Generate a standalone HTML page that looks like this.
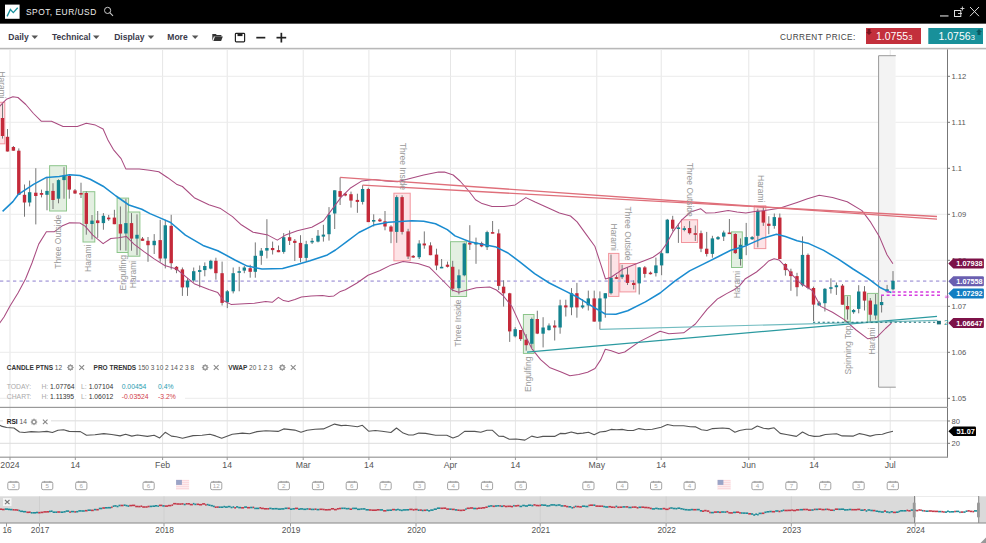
<!DOCTYPE html>
<html><head><meta charset="utf-8"><style>
html,body{margin:0;padding:0;background:#fff;width:986px;height:543px;overflow:hidden}
svg{display:block}
</style></head><body>
<svg width="986" height="543" viewBox="0 0 986 543">
<rect x="0" y="0" width="986" height="23" fill="#000"/>
<rect x="0" y="23" width="986" height="1" fill="#555"/>
<rect x="5" y="4.6" width="14.6" height="14.2" fill="#fff"/>
<polyline points="7.1,16.4 10.4,9.5 13.3,12.6 17.7,7.7" fill="none" stroke="#16909c" stroke-width="1.3"/>
<text x="26" y="15" font-family="Liberation Sans, sans-serif" font-size="8.4" letter-spacing="0.5" fill="#eee">SPOT, EUR/USD</text>
<circle cx="107.6" cy="10.4" r="3.1" fill="none" stroke="#ccc" stroke-width="1"/>
<line x1="109.8" y1="12.6" x2="113" y2="15.8" stroke="#ccc" stroke-width="1.1"/>
<rect x="940" y="15.4" width="8.5" height="1.1" fill="#ddd"/>
<rect x="954.5" y="10.5" width="6.3" height="6" fill="none" stroke="#ddd" stroke-width="1"/>
<path d="M958 13.5 h4 M962.4 6.5 v4 M960.4 8.5 h4" stroke="#ddd" stroke-width="0.9"/>
<path d="M970 7 L979 16.2 M979 7 L970 16.2" stroke="#ddd" stroke-width="1"/>
<text x="8.3" y="40.2" font-family="Liberation Sans, sans-serif" font-size="8.5" font-weight="bold" fill="#3a3a4a">Daily</text>
<path d="M31.5,35.5 h6.5 l-3.25,3.5 z" fill="#555"/>
<text x="52" y="40.2" font-family="Liberation Sans, sans-serif" font-size="8.5" font-weight="bold" fill="#3a3a4a">Technical</text>
<path d="M93,35.5 h6.5 l-3.25,3.5 z" fill="#555"/>
<text x="114.2" y="40.2" font-family="Liberation Sans, sans-serif" font-size="8.5" font-weight="bold" fill="#3a3a4a">Display</text>
<path d="M147.7,35.5 h6.5 l-3.25,3.5 z" fill="#555"/>
<text x="167.3" y="40.2" font-family="Liberation Sans, sans-serif" font-size="8.5" font-weight="bold" fill="#3a3a4a">More</text>
<path d="M191.9,35.5 h6.5 l-3.25,3.5 z" fill="#555"/>
<path d="M212.3,34 h3.5 l1,1 h4.6 v1.6 h-7.6 l-1.5,4.4 z" fill="#333"/><path d="M213.3,41 l1.7,-4.4 h7.8 l-1.7,4.4 z" fill="#333"/>
<rect x="235.4" y="33.3" width="9.2" height="8.6" rx="0.8" fill="none" stroke="#222" stroke-width="1.2"/><rect x="237.5" y="33.3" width="5" height="2.8" fill="#222"/>
<rect x="256.3" y="36.8" width="9" height="1.7" fill="#222"/>
<rect x="276.5" y="36.8" width="9.7" height="1.7" fill="#222"/><rect x="280.5" y="32.8" width="1.7" height="9.7" fill="#222"/>
<text x="780" y="40" font-family="Liberation Sans, sans-serif" font-size="8.2" letter-spacing="0.45" fill="#444">CURRENT PRICE:</text>
<rect x="866" y="28" width="55" height="16" fill="#c3303c"/>
<text x="876" y="40.3" font-family="Liberation Sans, sans-serif" font-size="10.5" fill="#fff">1.0755<tspan font-size="7.5">3</tspan></text>
<path d="M867.5,29 h3 v3 h1.5 l-3,3 l-3,-3 h1.5 z" fill="#7a1520"/>
<rect x="928.3" y="28" width="54.7" height="16" fill="#18909a"/>
<text x="938.5" y="40.3" font-family="Liberation Sans, sans-serif" font-size="10.5" fill="#fff">1.0756<tspan font-size="7.5">3</tspan></text>
<path d="M977.5,35 h3 v-3 h1.5 l-3,-3 l-3,3 h1.5 z" fill="#0b5a60"/>
<rect x="0" y="47.8" width="986" height="1.6" fill="#b8b8b8"/>
<rect x="9.5" y="49.4" width="1" height="408" fill="#e6e6e6"/>
<rect x="74.8" y="49.4" width="1" height="408" fill="#e6e6e6"/>
<rect x="162.1" y="49.4" width="1" height="408" fill="#e6e6e6"/>
<rect x="226.7" y="49.4" width="1" height="408" fill="#e6e6e6"/>
<rect x="302.7" y="49.4" width="1" height="408" fill="#e6e6e6"/>
<rect x="368.4" y="49.4" width="1" height="408" fill="#e6e6e6"/>
<rect x="450.0" y="49.4" width="1" height="408" fill="#e6e6e6"/>
<rect x="514.9" y="49.4" width="1" height="408" fill="#e6e6e6"/>
<rect x="596.3" y="49.4" width="1" height="408" fill="#e6e6e6"/>
<rect x="660.7" y="49.4" width="1" height="408" fill="#e6e6e6"/>
<rect x="748.3" y="49.4" width="1" height="408" fill="#e6e6e6"/>
<rect x="813.6" y="49.4" width="1" height="408" fill="#e6e6e6"/>
<rect x="889.7" y="49.4" width="1" height="408" fill="#e6e6e6"/>
<rect x="0" y="75.80" width="947" height="1" fill="#ececec"/>
<rect x="0" y="121.80" width="947" height="1" fill="#ececec"/>
<rect x="0" y="167.80" width="947" height="1" fill="#ececec"/>
<rect x="0" y="213.80" width="947" height="1" fill="#ececec"/>
<rect x="0" y="259.80" width="947" height="1" fill="#ececec"/>
<rect x="0" y="305.80" width="947" height="1" fill="#ececec"/>
<rect x="0" y="351.80" width="947" height="1" fill="#ececec"/>
<rect x="0" y="397.80" width="947" height="1" fill="#ececec"/>
<rect x="947" y="49.4" width="1" height="408" fill="#777"/>
<rect x="947" y="75.80" width="3" height="1" fill="#777"/>
<text x="951.5" y="79.10" font-family="Liberation Sans, sans-serif" font-size="7.6" fill="#555">1.12</text>
<rect x="947" y="121.80" width="3" height="1" fill="#777"/>
<text x="951.5" y="125.10" font-family="Liberation Sans, sans-serif" font-size="7.6" fill="#555">1.11</text>
<rect x="947" y="167.80" width="3" height="1" fill="#777"/>
<text x="951.5" y="171.10" font-family="Liberation Sans, sans-serif" font-size="7.6" fill="#555">1.1</text>
<rect x="947" y="213.80" width="3" height="1" fill="#777"/>
<text x="951.5" y="217.10" font-family="Liberation Sans, sans-serif" font-size="7.6" fill="#555">1.09</text>
<rect x="947" y="259.80" width="3" height="1" fill="#777"/>
<text x="951.5" y="263.10" font-family="Liberation Sans, sans-serif" font-size="7.6" fill="#555">1.08</text>
<rect x="947" y="305.80" width="3" height="1" fill="#777"/>
<text x="951.5" y="309.10" font-family="Liberation Sans, sans-serif" font-size="7.6" fill="#555">1.07</text>
<rect x="947" y="351.80" width="3" height="1" fill="#777"/>
<text x="951.5" y="355.10" font-family="Liberation Sans, sans-serif" font-size="7.6" fill="#555">1.06</text>
<rect x="947" y="397.80" width="3" height="1" fill="#777"/>
<text x="951.5" y="401.10" font-family="Liberation Sans, sans-serif" font-size="7.6" fill="#555">1.05</text>
<rect x="0" y="406.8" width="948" height="1.2" fill="#999"/>
<rect x="878.6" y="55.7" width="17" height="331.4" fill="#f3f3f3"/>
<path d="M895.8,55.7 H878.6 V387.2 H895.8" fill="none" stroke="#999" stroke-width="1"/>
<rect x="49.6" y="165.7" width="16.9" height="45.3" fill="#e3efe1" stroke="#8cc58a" stroke-width="1"/>
<rect x="83" y="191.7" width="11.8" height="50.3" fill="#e3efe1" stroke="#8cc58a" stroke-width="1"/>
<rect x="117.1" y="198.1" width="11.5" height="54.4" fill="#e3efe1" stroke="#8cc58a" stroke-width="1"/>
<rect x="128.1" y="212" width="11.8" height="44.2" fill="#e3efe1" stroke="#8cc58a" stroke-width="1"/>
<rect x="450.5" y="241.7" width="16.1" height="54.8" fill="#e3efe1" stroke="#8cc58a" stroke-width="1"/>
<rect x="523.4" y="314.5" width="10.6" height="38.9" fill="#e3efe1" stroke="#8cc58a" stroke-width="1"/>
<rect x="731.5" y="231.9" width="10.8" height="35.6" fill="#e3efe1" stroke="#8cc58a" stroke-width="1"/>
<rect x="844.6" y="295.6" width="5.7" height="26.0" fill="#e3efe1" stroke="#8cc58a" stroke-width="1"/>
<rect x="867.4" y="293.4" width="10.7" height="29.2" fill="#e3efe1" stroke="#8cc58a" stroke-width="1"/>
<rect x="-1" y="102.3" width="5.8" height="41.5" fill="#fde3e6" stroke="#f2959d" stroke-width="1"/>
<rect x="393.9" y="193.2" width="16.3" height="67.6" fill="#fde3e6" stroke="#f2959d" stroke-width="1"/>
<rect x="608.6" y="253.4" width="10.3" height="43.0" fill="#fde3e6" stroke="#f2959d" stroke-width="1"/>
<rect x="619.8" y="263.5" width="16.0" height="28.4" fill="#fde3e6" stroke="#f2959d" stroke-width="1"/>
<rect x="681.5" y="219.8" width="16.1" height="22.7" fill="#fde3e6" stroke="#f2959d" stroke-width="1"/>
<rect x="754.2" y="205.8" width="11.6" height="42.8" fill="#fde3e6" stroke="#f2959d" stroke-width="1"/>
<line x1="0" y1="281.1" x2="947" y2="281.1" stroke="#bdb5e3" stroke-width="1.6" stroke-dasharray="3.3,3.2"/>
<rect x="2.0" y="103.8" width="1" height="34.8" fill="#777"/>
<rect x="0.8" y="118.0" width="3.4" height="18.0" fill="#c42a3a"/>
<rect x="7.0" y="129.0" width="1" height="22.5" fill="#777"/>
<rect x="5.8" y="136.8" width="3.4" height="14.7" fill="#c42a3a"/>
<rect x="12.9" y="146.0" width="1" height="4.7" fill="#777"/>
<rect x="11.7" y="147.0" width="3.4" height="3.7" fill="#c42a3a"/>
<rect x="18.3" y="148.4" width="1" height="46.4" fill="#777"/>
<rect x="17.1" y="150.7" width="3.4" height="44.1" fill="#c42a3a"/>
<rect x="24.0" y="184.5" width="1" height="32.2" fill="#777"/>
<rect x="22.8" y="194.8" width="3.4" height="7.7" fill="#c42a3a"/>
<rect x="29.1" y="180.6" width="1" height="25.8" fill="#777"/>
<rect x="27.9" y="192.2" width="3.4" height="10.3" fill="#13838f"/>
<rect x="35.3" y="168.2" width="1" height="56.2" fill="#777"/>
<rect x="34.1" y="192.7" width="3.4" height="3.3" fill="#c42a3a"/>
<rect x="41.0" y="189.6" width="1" height="7.8" fill="#777"/>
<rect x="39.8" y="193.0" width="3.4" height="1.8" fill="#c42a3a"/>
<rect x="46.5" y="176.8" width="1" height="33.5" fill="#777"/>
<rect x="45.3" y="190.9" width="3.4" height="3.9" fill="#13838f"/>
<rect x="52.5" y="183.2" width="1" height="25.8" fill="#777"/>
<rect x="51.3" y="190.9" width="3.4" height="9.1" fill="#c42a3a"/>
<rect x="58.0" y="179.3" width="1" height="24.0" fill="#777"/>
<rect x="56.8" y="180.1" width="3.4" height="18.6" fill="#13838f"/>
<rect x="63.5" y="167.2" width="1" height="31.5" fill="#777"/>
<rect x="62.3" y="175.5" width="3.4" height="4.6" fill="#13838f"/>
<rect x="68.8" y="174.2" width="1" height="24.5" fill="#777"/>
<rect x="67.6" y="176.0" width="3.4" height="13.6" fill="#c42a3a"/>
<rect x="74.5" y="189.0" width="1" height="5.0" fill="#777"/>
<rect x="73.3" y="190.4" width="3.4" height="3.1" fill="#c42a3a"/>
<rect x="80.5" y="182.7" width="1" height="15.3" fill="#777"/>
<rect x="79.3" y="193.0" width="3.4" height="1.6" fill="#c42a3a"/>
<rect x="85.8" y="191.4" width="1" height="43.3" fill="#777"/>
<rect x="84.6" y="193.0" width="3.4" height="30.9" fill="#c42a3a"/>
<rect x="91.5" y="215.0" width="1" height="24.4" fill="#777"/>
<rect x="90.3" y="220.6" width="3.4" height="3.4" fill="#13838f"/>
<rect x="97.2" y="211.0" width="1" height="26.9" fill="#777"/>
<rect x="96.0" y="220.4" width="3.4" height="2.7" fill="#c42a3a"/>
<rect x="102.9" y="213.1" width="1" height="16.6" fill="#777"/>
<rect x="101.7" y="215.8" width="3.4" height="7.3" fill="#13838f"/>
<rect x="108.2" y="214.9" width="1" height="6.0" fill="#777"/>
<rect x="107.0" y="217.6" width="3.4" height="1.7" fill="#c42a3a"/>
<rect x="113.9" y="209.8" width="1" height="14.4" fill="#777"/>
<rect x="112.7" y="217.6" width="3.4" height="6.6" fill="#c42a3a"/>
<rect x="119.9" y="206.5" width="1" height="43.8" fill="#777"/>
<rect x="118.7" y="224.2" width="3.4" height="9.3" fill="#c42a3a"/>
<rect x="125.4" y="198.8" width="1" height="51.9" fill="#777"/>
<rect x="124.2" y="223.1" width="3.4" height="10.4" fill="#13838f"/>
<rect x="131.0" y="213.1" width="1" height="37.6" fill="#777"/>
<rect x="129.8" y="223.1" width="3.4" height="15.5" fill="#c42a3a"/>
<rect x="136.5" y="214.3" width="1" height="40.8" fill="#777"/>
<rect x="135.3" y="234.8" width="3.4" height="3.8" fill="#13838f"/>
<rect x="142.0" y="237.0" width="1" height="3.8" fill="#777"/>
<rect x="140.8" y="238.6" width="3.4" height="2.2" fill="#c42a3a"/>
<rect x="147.5" y="237.0" width="1" height="24.8" fill="#777"/>
<rect x="146.3" y="240.8" width="3.4" height="4.4" fill="#c42a3a"/>
<rect x="153.7" y="234.1" width="1" height="19.9" fill="#777"/>
<rect x="152.5" y="240.8" width="3.4" height="4.4" fill="#13838f"/>
<rect x="159.7" y="219.8" width="1" height="42.0" fill="#777"/>
<rect x="158.5" y="240.1" width="3.4" height="18.4" fill="#c42a3a"/>
<rect x="164.8" y="219.8" width="1" height="48.6" fill="#777"/>
<rect x="163.6" y="225.3" width="3.4" height="33.2" fill="#13838f"/>
<rect x="170.7" y="214.8" width="1" height="54.7" fill="#777"/>
<rect x="169.5" y="225.8" width="3.4" height="37.4" fill="#c42a3a"/>
<rect x="176.0" y="266.0" width="1" height="7.2" fill="#777"/>
<rect x="174.8" y="266.8" width="3.4" height="3.3" fill="#c42a3a"/>
<rect x="181.9" y="267.5" width="1" height="28.4" fill="#777"/>
<rect x="180.7" y="269.4" width="3.4" height="18.0" fill="#c42a3a"/>
<rect x="187.0" y="277.9" width="1" height="18.0" fill="#777"/>
<rect x="185.8" y="280.5" width="3.4" height="6.9" fill="#13838f"/>
<rect x="193.2" y="267.5" width="1" height="14.8" fill="#777"/>
<rect x="192.0" y="271.2" width="3.4" height="9.3" fill="#13838f"/>
<rect x="199.2" y="265.5" width="1" height="21.9" fill="#777"/>
<rect x="198.0" y="270.1" width="3.4" height="1.8" fill="#13838f"/>
<rect x="204.3" y="262.4" width="1" height="13.9" fill="#777"/>
<rect x="203.1" y="266.0" width="3.4" height="4.1" fill="#13838f"/>
<rect x="210.3" y="259.8" width="1" height="9.6" fill="#777"/>
<rect x="209.1" y="260.8" width="3.4" height="7.8" fill="#13838f"/>
<rect x="215.4" y="257.7" width="1" height="22.0" fill="#777"/>
<rect x="214.2" y="260.8" width="3.4" height="12.4" fill="#c42a3a"/>
<rect x="221.6" y="261.6" width="1" height="43.9" fill="#777"/>
<rect x="220.4" y="273.2" width="3.4" height="29.7" fill="#c42a3a"/>
<rect x="226.8" y="290.0" width="1" height="18.1" fill="#777"/>
<rect x="225.6" y="291.3" width="3.4" height="10.8" fill="#13838f"/>
<rect x="232.7" y="267.5" width="1" height="25.9" fill="#777"/>
<rect x="231.5" y="273.2" width="3.4" height="18.1" fill="#13838f"/>
<rect x="238.7" y="266.8" width="1" height="24.5" fill="#777"/>
<rect x="237.5" y="271.2" width="3.4" height="1.6" fill="#13838f"/>
<rect x="243.8" y="266.0" width="1" height="7.2" fill="#777"/>
<rect x="242.6" y="267.5" width="3.4" height="3.1" fill="#13838f"/>
<rect x="249.7" y="264.8" width="1" height="12.9" fill="#777"/>
<rect x="248.5" y="268.2" width="3.4" height="3.6" fill="#c42a3a"/>
<rect x="254.8" y="242.4" width="1" height="35.3" fill="#777"/>
<rect x="253.6" y="255.8" width="3.4" height="16.0" fill="#13838f"/>
<rect x="260.8" y="248.0" width="1" height="16.8" fill="#777"/>
<rect x="259.6" y="250.6" width="3.4" height="5.2" fill="#13838f"/>
<rect x="266.4" y="219.2" width="1" height="39.2" fill="#777"/>
<rect x="265.2" y="248.0" width="3.4" height="2.6" fill="#13838f"/>
<rect x="272.1" y="241.6" width="1" height="12.9" fill="#777"/>
<rect x="270.9" y="248.0" width="3.4" height="2.1" fill="#c42a3a"/>
<rect x="278.0" y="245.5" width="1" height="6.7" fill="#777"/>
<rect x="276.8" y="250.1" width="3.4" height="2.1" fill="#c42a3a"/>
<rect x="283.2" y="233.1" width="1" height="20.6" fill="#777"/>
<rect x="282.0" y="237.2" width="3.4" height="14.7" fill="#13838f"/>
<rect x="289.1" y="230.5" width="1" height="14.5" fill="#777"/>
<rect x="287.9" y="237.2" width="3.4" height="3.6" fill="#c42a3a"/>
<rect x="294.3" y="239.0" width="1" height="22.0" fill="#777"/>
<rect x="293.1" y="240.8" width="3.4" height="2.1" fill="#c42a3a"/>
<rect x="300.0" y="235.2" width="1" height="27.1" fill="#777"/>
<rect x="298.8" y="242.9" width="3.4" height="15.0" fill="#c42a3a"/>
<rect x="305.7" y="240.8" width="1" height="20.2" fill="#777"/>
<rect x="304.5" y="244.2" width="3.4" height="13.7" fill="#13838f"/>
<rect x="311.6" y="238.0" width="1" height="6.0" fill="#777"/>
<rect x="310.4" y="240.8" width="3.4" height="1.6" fill="#13838f"/>
<rect x="317.5" y="230.0" width="1" height="12.4" fill="#777"/>
<rect x="316.3" y="235.7" width="3.4" height="5.9" fill="#13838f"/>
<rect x="322.9" y="224.8" width="1" height="16.8" fill="#777"/>
<rect x="321.7" y="234.6" width="3.4" height="2.0" fill="#13838f"/>
<rect x="328.5" y="207.1" width="1" height="33.5" fill="#777"/>
<rect x="327.3" y="214.8" width="3.4" height="19.4" fill="#13838f"/>
<rect x="334.2" y="190.3" width="1" height="38.7" fill="#777"/>
<rect x="333.0" y="190.3" width="3.4" height="23.2" fill="#13838f"/>
<rect x="339.6" y="177.4" width="1" height="27.6" fill="#777"/>
<rect x="338.4" y="191.1" width="3.4" height="5.7" fill="#c42a3a"/>
<rect x="344.8" y="192.9" width="1" height="3.4" fill="#777"/>
<rect x="343.6" y="193.7" width="3.4" height="1.8" fill="#c42a3a"/>
<rect x="350.5" y="191.6" width="1" height="16.0" fill="#777"/>
<rect x="349.3" y="194.2" width="3.4" height="6.4" fill="#c42a3a"/>
<rect x="356.9" y="193.7" width="1" height="19.1" fill="#777"/>
<rect x="355.7" y="199.9" width="3.4" height="2.0" fill="#c42a3a"/>
<rect x="362.1" y="185.2" width="1" height="19.3" fill="#777"/>
<rect x="360.9" y="189.0" width="3.4" height="12.9" fill="#13838f"/>
<rect x="367.8" y="187.7" width="1" height="34.4" fill="#777"/>
<rect x="366.6" y="189.0" width="3.4" height="33.1" fill="#c42a3a"/>
<rect x="373.2" y="214.3" width="1" height="12.2" fill="#777"/>
<rect x="372.0" y="220.0" width="3.4" height="1.6" fill="#13838f"/>
<rect x="379.4" y="218.0" width="1" height="4.0" fill="#777"/>
<rect x="378.2" y="219.5" width="3.4" height="1.8" fill="#c42a3a"/>
<rect x="384.5" y="211.0" width="1" height="19.3" fill="#777"/>
<rect x="383.3" y="221.3" width="3.4" height="5.2" fill="#c42a3a"/>
<rect x="390.5" y="225.2" width="1" height="18.0" fill="#777"/>
<rect x="389.3" y="226.5" width="3.4" height="5.1" fill="#c42a3a"/>
<rect x="396.2" y="195.3" width="1" height="47.5" fill="#777"/>
<rect x="395.0" y="197.1" width="3.4" height="34.8" fill="#13838f"/>
<rect x="401.6" y="195.3" width="1" height="39.2" fill="#777"/>
<rect x="400.4" y="197.1" width="3.4" height="34.8" fill="#c42a3a"/>
<rect x="407.6" y="228.8" width="1" height="30.2" fill="#777"/>
<rect x="406.4" y="231.4" width="3.4" height="25.1" fill="#c42a3a"/>
<rect x="412.7" y="255.0" width="1" height="3.0" fill="#777"/>
<rect x="411.5" y="255.9" width="3.4" height="1.6" fill="#c42a3a"/>
<rect x="418.7" y="240.2" width="1" height="18.8" fill="#777"/>
<rect x="417.5" y="243.5" width="3.4" height="13.7" fill="#13838f"/>
<rect x="423.8" y="231.4" width="1" height="17.3" fill="#777"/>
<rect x="422.6" y="243.5" width="3.4" height="1.9" fill="#c42a3a"/>
<rect x="430.0" y="242.3" width="1" height="12.9" fill="#777"/>
<rect x="428.8" y="245.4" width="3.4" height="9.8" fill="#c42a3a"/>
<rect x="436.0" y="248.7" width="1" height="21.4" fill="#777"/>
<rect x="434.8" y="254.6" width="3.4" height="10.9" fill="#c42a3a"/>
<rect x="441.1" y="259.0" width="1" height="9.1" fill="#777"/>
<rect x="439.9" y="266.8" width="3.4" height="1.6" fill="#13838f"/>
<rect x="447.0" y="261.6" width="1" height="5.9" fill="#777"/>
<rect x="445.8" y="264.7" width="3.4" height="2.1" fill="#c42a3a"/>
<rect x="452.2" y="260.8" width="1" height="30.5" fill="#777"/>
<rect x="451.0" y="266.8" width="3.4" height="21.9" fill="#c42a3a"/>
<rect x="458.4" y="269.4" width="1" height="25.0" fill="#777"/>
<rect x="457.2" y="275.3" width="3.4" height="12.9" fill="#13838f"/>
<rect x="463.8" y="242.8" width="1" height="33.5" fill="#777"/>
<rect x="462.6" y="243.5" width="3.4" height="31.8" fill="#13838f"/>
<rect x="469.3" y="225.2" width="1" height="24.8" fill="#777"/>
<rect x="468.1" y="242.6" width="3.4" height="1.9" fill="#c42a3a"/>
<rect x="475.5" y="237.6" width="1" height="26.2" fill="#777"/>
<rect x="474.3" y="242.6" width="3.4" height="1.9" fill="#13838f"/>
<rect x="481.1" y="241.7" width="1" height="5.5" fill="#777"/>
<rect x="479.9" y="243.1" width="3.4" height="3.3" fill="#c42a3a"/>
<rect x="486.6" y="230.7" width="1" height="19.3" fill="#777"/>
<rect x="485.4" y="232.1" width="3.4" height="15.1" fill="#13838f"/>
<rect x="492.1" y="221.0" width="1" height="12.4" fill="#777"/>
<rect x="490.9" y="232.1" width="3.4" height="1.6" fill="#c42a3a"/>
<rect x="498.2" y="229.3" width="1" height="60.7" fill="#777"/>
<rect x="497.0" y="233.4" width="3.4" height="52.5" fill="#c42a3a"/>
<rect x="503.1" y="280.3" width="1" height="26.3" fill="#777"/>
<rect x="501.9" y="286.7" width="3.4" height="6.6" fill="#c42a3a"/>
<rect x="509.2" y="292.8" width="1" height="49.1" fill="#777"/>
<rect x="508.0" y="293.3" width="3.4" height="38.1" fill="#c42a3a"/>
<rect x="514.7" y="327.2" width="1" height="10.2" fill="#777"/>
<rect x="513.5" y="329.2" width="3.4" height="7.1" fill="#13838f"/>
<rect x="520.2" y="330.0" width="1" height="11.0" fill="#777"/>
<rect x="519.0" y="330.0" width="3.4" height="9.1" fill="#c42a3a"/>
<rect x="525.7" y="334.1" width="1" height="16.6" fill="#777"/>
<rect x="524.5" y="339.7" width="3.4" height="5.5" fill="#c42a3a"/>
<rect x="531.3" y="317.6" width="1" height="30.3" fill="#777"/>
<rect x="530.1" y="319.0" width="3.4" height="24.8" fill="#13838f"/>
<rect x="536.8" y="310.7" width="1" height="23.4" fill="#777"/>
<rect x="535.6" y="319.0" width="3.4" height="14.6" fill="#c42a3a"/>
<rect x="542.6" y="317.2" width="1" height="30.2" fill="#777"/>
<rect x="541.4" y="327.5" width="3.4" height="6.2" fill="#13838f"/>
<rect x="548.5" y="323.4" width="1" height="7.2" fill="#777"/>
<rect x="547.3" y="325.5" width="3.4" height="4.6" fill="#13838f"/>
<rect x="554.2" y="320.3" width="1" height="20.2" fill="#777"/>
<rect x="553.0" y="325.5" width="3.4" height="2.0" fill="#c42a3a"/>
<rect x="559.6" y="299.7" width="1" height="34.0" fill="#777"/>
<rect x="558.4" y="305.4" width="3.4" height="22.1" fill="#13838f"/>
<rect x="565.3" y="299.7" width="1" height="16.8" fill="#777"/>
<rect x="564.1" y="305.4" width="3.4" height="2.0" fill="#c42a3a"/>
<rect x="571.0" y="288.1" width="1" height="27.1" fill="#777"/>
<rect x="569.8" y="293.2" width="3.4" height="14.2" fill="#13838f"/>
<rect x="576.4" y="282.9" width="1" height="34.8" fill="#777"/>
<rect x="575.2" y="293.2" width="3.4" height="14.2" fill="#c42a3a"/>
<rect x="582.1" y="299.2" width="1" height="9.5" fill="#777"/>
<rect x="580.9" y="305.4" width="3.4" height="2.0" fill="#13838f"/>
<rect x="587.8" y="290.6" width="1" height="19.9" fill="#777"/>
<rect x="586.6" y="298.4" width="3.4" height="7.0" fill="#13838f"/>
<rect x="593.7" y="290.6" width="1" height="31.0" fill="#777"/>
<rect x="592.5" y="298.4" width="3.4" height="23.2" fill="#c42a3a"/>
<rect x="599.4" y="291.4" width="1" height="38.0" fill="#777"/>
<rect x="598.2" y="298.4" width="3.4" height="23.2" fill="#13838f"/>
<rect x="604.8" y="293.2" width="1" height="24.5" fill="#777"/>
<rect x="603.6" y="293.2" width="3.4" height="5.2" fill="#13838f"/>
<rect x="610.5" y="254.5" width="1" height="40.0" fill="#777"/>
<rect x="609.3" y="277.7" width="3.4" height="15.5" fill="#13838f"/>
<rect x="616.0" y="275.2" width="1" height="3.8" fill="#777"/>
<rect x="614.8" y="277.2" width="3.4" height="1.6" fill="#c42a3a"/>
<rect x="621.6" y="264.8" width="1" height="14.2" fill="#777"/>
<rect x="620.4" y="274.6" width="3.4" height="2.6" fill="#13838f"/>
<rect x="627.0" y="267.4" width="1" height="17.6" fill="#777"/>
<rect x="625.8" y="274.6" width="3.4" height="8.3" fill="#c42a3a"/>
<rect x="633.2" y="280.3" width="1" height="9.1" fill="#777"/>
<rect x="632.0" y="282.9" width="3.4" height="2.1" fill="#c42a3a"/>
<rect x="638.7" y="266.9" width="1" height="27.6" fill="#777"/>
<rect x="637.5" y="267.4" width="3.4" height="16.0" fill="#13838f"/>
<rect x="644.3" y="266.1" width="1" height="11.6" fill="#777"/>
<rect x="643.1" y="267.4" width="3.4" height="6.5" fill="#c42a3a"/>
<rect x="650.0" y="271.5" width="1" height="3.0" fill="#777"/>
<rect x="648.8" y="272.6" width="3.4" height="1.6" fill="#c42a3a"/>
<rect x="655.4" y="257.6" width="1" height="18.9" fill="#777"/>
<rect x="654.2" y="265.4" width="3.4" height="7.7" fill="#13838f"/>
<rect x="661.1" y="249.9" width="1" height="25.3" fill="#777"/>
<rect x="659.9" y="253.2" width="3.4" height="12.2" fill="#13838f"/>
<rect x="666.8" y="218.9" width="1" height="34.3" fill="#777"/>
<rect x="665.6" y="219.7" width="3.4" height="33.5" fill="#13838f"/>
<rect x="672.2" y="215.8" width="1" height="15.5" fill="#777"/>
<rect x="671.0" y="219.7" width="3.4" height="9.0" fill="#c42a3a"/>
<rect x="677.9" y="223.5" width="1" height="19.4" fill="#777"/>
<rect x="676.7" y="227.4" width="3.4" height="1.6" fill="#13838f"/>
<rect x="683.8" y="226.1" width="1" height="5.2" fill="#777"/>
<rect x="682.6" y="228.2" width="3.4" height="1.8" fill="#13838f"/>
<rect x="689.1" y="221.1" width="1" height="13.4" fill="#777"/>
<rect x="687.9" y="228.0" width="3.4" height="5.2" fill="#c42a3a"/>
<rect x="694.8" y="225.5" width="1" height="15.5" fill="#777"/>
<rect x="693.6" y="233.2" width="3.4" height="1.6" fill="#c42a3a"/>
<rect x="700.5" y="230.6" width="1" height="21.5" fill="#777"/>
<rect x="699.3" y="233.2" width="3.4" height="15.5" fill="#c42a3a"/>
<rect x="706.2" y="231.9" width="1" height="24.6" fill="#777"/>
<rect x="705.0" y="248.7" width="3.4" height="5.2" fill="#c42a3a"/>
<rect x="711.9" y="235.8" width="1" height="21.9" fill="#777"/>
<rect x="710.7" y="238.4" width="3.4" height="15.5" fill="#13838f"/>
<rect x="717.5" y="236.0" width="1" height="4.0" fill="#777"/>
<rect x="716.3" y="237.1" width="3.4" height="2.1" fill="#13838f"/>
<rect x="723.2" y="230.6" width="1" height="10.4" fill="#777"/>
<rect x="722.0" y="232.5" width="3.4" height="4.1" fill="#13838f"/>
<rect x="728.9" y="219.0" width="1" height="15.0" fill="#777"/>
<rect x="727.7" y="232.5" width="3.4" height="1.6" fill="#c42a3a"/>
<rect x="734.8" y="233.2" width="1" height="20.7" fill="#777"/>
<rect x="733.6" y="234.0" width="3.4" height="19.1" fill="#c42a3a"/>
<rect x="740.0" y="238.4" width="1" height="27.1" fill="#777"/>
<rect x="738.8" y="244.8" width="3.4" height="14.2" fill="#13838f"/>
<rect x="745.7" y="222.9" width="1" height="32.3" fill="#777"/>
<rect x="744.5" y="237.1" width="3.4" height="8.3" fill="#13838f"/>
<rect x="751.6" y="236.0" width="1" height="4.0" fill="#777"/>
<rect x="750.4" y="237.1" width="3.4" height="2.1" fill="#13838f"/>
<rect x="757.3" y="208.7" width="1" height="38.7" fill="#777"/>
<rect x="756.1" y="210.8" width="3.4" height="25.0" fill="#13838f"/>
<rect x="762.8" y="206.6" width="1" height="19.3" fill="#777"/>
<rect x="761.6" y="210.8" width="3.4" height="11.8" fill="#c42a3a"/>
<rect x="768.3" y="216.2" width="1" height="18.0" fill="#777"/>
<rect x="767.1" y="223.7" width="3.4" height="2.2" fill="#c42a3a"/>
<rect x="773.8" y="213.5" width="1" height="15.2" fill="#777"/>
<rect x="772.6" y="217.1" width="3.4" height="8.8" fill="#13838f"/>
<rect x="779.3" y="213.5" width="1" height="45.5" fill="#777"/>
<rect x="778.1" y="217.6" width="3.4" height="41.4" fill="#c42a3a"/>
<rect x="784.9" y="263.2" width="1" height="12.4" fill="#777"/>
<rect x="783.7" y="264.0" width="3.4" height="6.1" fill="#c42a3a"/>
<rect x="790.4" y="268.7" width="1" height="22.1" fill="#777"/>
<rect x="789.2" y="271.4" width="3.4" height="4.7" fill="#c42a3a"/>
<rect x="796.5" y="272.8" width="1" height="23.5" fill="#777"/>
<rect x="795.3" y="276.1" width="3.4" height="11.1" fill="#c42a3a"/>
<rect x="802.0" y="236.4" width="1" height="50.2" fill="#777"/>
<rect x="800.8" y="254.9" width="3.4" height="30.4" fill="#13838f"/>
<rect x="807.5" y="253.5" width="1" height="35.9" fill="#777"/>
<rect x="806.3" y="254.9" width="3.4" height="33.1" fill="#c42a3a"/>
<rect x="813.0" y="286.6" width="1" height="34.5" fill="#777"/>
<rect x="811.8" y="288.0" width="3.4" height="16.6" fill="#c42a3a"/>
<rect x="818.6" y="301.0" width="1" height="5.0" fill="#777"/>
<rect x="817.4" y="302.6" width="3.4" height="2.8" fill="#13838f"/>
<rect x="824.4" y="288.0" width="1" height="23.5" fill="#777"/>
<rect x="823.2" y="288.8" width="3.4" height="14.4" fill="#13838f"/>
<rect x="830.4" y="278.3" width="1" height="15.2" fill="#777"/>
<rect x="829.2" y="287.2" width="3.4" height="1.6" fill="#13838f"/>
<rect x="835.9" y="282.5" width="1" height="12.4" fill="#777"/>
<rect x="834.7" y="285.3" width="3.4" height="1.9" fill="#13838f"/>
<rect x="842.0" y="284.0" width="1" height="20.7" fill="#777"/>
<rect x="840.8" y="285.6" width="3.4" height="19.1" fill="#c42a3a"/>
<rect x="847.0" y="296.4" width="1" height="23.2" fill="#777"/>
<rect x="845.8" y="306.0" width="3.4" height="3.4" fill="#c42a3a"/>
<rect x="853.1" y="309.0" width="1" height="4.8" fill="#777"/>
<rect x="851.9" y="310.0" width="3.4" height="2.2" fill="#13838f"/>
<rect x="858.2" y="285.2" width="1" height="28.1" fill="#777"/>
<rect x="857.0" y="291.5" width="3.4" height="17.4" fill="#13838f"/>
<rect x="864.0" y="286.1" width="1" height="24.4" fill="#777"/>
<rect x="862.8" y="291.5" width="3.4" height="9.1" fill="#c42a3a"/>
<rect x="869.8" y="298.0" width="1" height="24.1" fill="#777"/>
<rect x="868.6" y="300.6" width="3.4" height="14.1" fill="#c42a3a"/>
<rect x="875.1" y="294.0" width="1" height="25.6" fill="#777"/>
<rect x="873.9" y="304.4" width="3.4" height="11.1" fill="#13838f"/>
<rect x="881.1" y="295.2" width="1" height="17.3" fill="#777"/>
<rect x="879.9" y="302.0" width="3.4" height="3.1" fill="#13838f"/>
<rect x="886.6" y="284.9" width="1" height="6.6" fill="#777"/>
<rect x="885.4" y="289.3" width="3.4" height="2.2" fill="#13838f"/>
<rect x="892.5" y="271.1" width="1" height="19.3" fill="#777"/>
<rect x="891.3" y="280.8" width="3.4" height="8.5" fill="#13838f"/>
<polyline points="-1.0,107.0 2.6,103.2 6.4,99.3 12.9,96.7 18.0,97.5 25.8,104.5 33.5,113.5 41.2,121.2 51.5,121.2 63.1,126.4 77.3,126.4 86.3,123.3 95.4,125.1 103.1,129.0 108.2,140.6 113.4,149.6 121.1,158.6 125.8,168.9 139.2,168.9 149.5,170.2 158.8,171.8 167.7,177.7 176.5,184.2 182.4,186.5 194.2,197.7 208.9,204.8 220.7,208.6 232.5,216.6 241.3,224.8 253.1,232.2 267.9,235.1 277.3,240.1 285.5,235.1 297.3,230.7 311.8,227.2 323.6,220.7 332.4,208.9 341.2,197.1 350.1,188.3 361.9,180.9 373.7,179.5 385.4,180.9 397.2,181.8 412.0,178.0 423.7,175.0 438.5,172.1 444.4,172.1 453.2,175.0 460.0,181.0 468.8,191.0 475.5,199.8 482.1,203.6 492.0,206.5 504.2,206.5 515.2,204.9 525.9,197.6 535.1,202.0 548.4,208.0 559.4,213.1 570.5,216.0 577.1,221.9 586.0,234.1 594.8,246.2 600.3,262.8 605.5,279.0 611.0,277.2 617.7,272.8 622.1,269.5 633.1,265.1 644.2,260.7 653.0,257.3 660.8,251.8 666.3,244.1 672.9,231.9 681.8,219.8 690.6,212.0 700.6,208.7 706.1,213.1 714.9,212.7 728.2,210.5 737.0,212.0 745.9,213.1 754.7,211.4 764.7,210.6 779.5,208.3 797.1,202.4 807.5,198.8 819.2,195.3 832.5,197.4 847.2,201.8 862.0,210.6 870.8,222.4 879.6,237.1 887.0,254.8 892.9,263.7" fill="none" stroke="#a94b80" stroke-width="1.05" stroke-linejoin="round"/>
<polyline points="-1.0,324.0 4.0,317.0 10.0,306.0 18.0,293.0 25.5,279.0 32.0,263.0 38.7,244.1 46.4,231.8 54.1,231.8 61.9,226.1 69.6,222.7 79.9,223.0 85.1,226.1 92.8,235.1 103.1,243.6 110.8,238.5 118.6,237.7 126.3,236.4 134.0,244.1 144.3,251.9 154.6,259.1 164.7,265.5 176.5,269.0 185.4,276.4 194.2,283.7 208.9,289.6 217.8,292.6 223.7,300.8 231.0,304.4 244.3,303.8 254.3,303.2 265.7,301.6 272.2,302.3 278.4,297.4 283.5,300.6 288.4,301.6 294.9,299.5 301.4,297.1 311.1,295.9 322.5,295.4 329.0,296.6 333.9,295.9 340.4,291.4 345.3,289.8 356.6,283.3 368.0,275.2 379.6,270.8 391.3,264.9 403.1,261.4 417.9,263.4 429.6,267.3 443.3,281.0 452.1,290.0 458.7,292.2 467.6,290.0 476.4,287.7 489.7,287.1 496.4,290.0 503.0,295.5 511.9,306.5 518.5,320.9 525.1,335.3 531.8,348.6 540.6,359.6 549.5,367.4 561.1,372.0 569.9,375.8 578.7,374.4 587.6,372.3 595.0,368.5 600.8,359.6 605.3,349.3 611.2,350.8 618.8,353.4 624.7,352.0 639.5,341.6 660.1,331.3 668.9,333.7 683.7,332.8 695.4,324.0 707.2,309.2 717.5,298.9 720.0,297.5 726.6,293.6 734.4,289.5 739.9,285.3 745.4,278.7 756.5,272.0 764.2,265.4 768.6,261.0 774.1,258.8 779.1,259.9 785.2,266.5 791.8,274.3 799.6,282.5 811.9,290.2 820.7,306.4 832.5,312.3 844.3,319.6 856.1,330.0 867.9,338.8 876.7,337.3 885.5,328.5 891.4,323.2" fill="none" stroke="#a94b80" stroke-width="1.05" stroke-linejoin="round"/>
<polyline points="2.6,211.4 12.9,201.6 18.0,194.7 33.5,184.4 46.4,177.4 59.3,176.6 69.6,174.8 79.9,175.4 90.2,179.2 103.1,186.2 116.0,196.0 128.9,205.0 141.8,209.3 150.0,213.6 160.0,217.9 170.6,222.5 185.4,235.1 203.0,245.4 217.8,250.7 235.4,260.2 247.2,266.1 262.0,269.0 282.6,268.4 297.3,264.6 310.0,260.8 327.4,254.9 335.5,250.0 347.1,241.3 358.9,232.5 373.7,225.1 388.4,222.2 412.0,220.7 423.7,221.3 435.5,223.7 447.3,229.6 455.0,235.9 469.7,241.8 484.5,244.7 496.2,247.1 508.0,253.0 519.8,261.8 534.6,273.6 549.3,283.0 564.0,290.4 578.7,297.8 593.5,307.2 605.3,314.0 615.9,314.2 627.7,310.7 645.4,301.9 660.1,293.0 674.8,281.2 689.6,270.9 704.3,263.6 719.0,256.2 730.8,250.3 745.5,245.9 761.8,238.6 776.5,234.2 785.4,236.6 797.1,240.7 808.9,243.6 823.7,250.4 838.4,259.2 853.1,269.0 867.9,278.4 879.6,287.2 888.5,291.6 891.4,292.5" fill="none" stroke="#1a8cd0" stroke-width="1.55" stroke-linejoin="round"/>
<line x1="340.1" y1="177.4" x2="937" y2="219.1" stroke="#df6f7a" stroke-width="1.3"/>
<line x1="362.6" y1="185.2" x2="937" y2="216.5" stroke="#df6f7a" stroke-width="1.3"/>
<line x1="527" y1="352.1" x2="937" y2="316.3" stroke="#2b9aa0" stroke-width="1.2"/>
<line x1="599.9" y1="329.4" x2="937.4" y2="320.3" stroke="#72bcc0" stroke-width="1.2"/>
<line x1="813" y1="322.3" x2="937" y2="322.3" stroke="#1b6f78" stroke-width="1.1" stroke-dasharray="2.2,2.6"/>
<rect x="936.9" y="320.8" width="4" height="3.6" fill="#1b6f78"/>
<text x="944" y="324.7" font-family="Liberation Sans, sans-serif" font-size="8" fill="#2b9aa0">2</text>
<line x1="886.6" y1="291.9" x2="941" y2="291.9" stroke="#d63ee0" stroke-width="1.5" stroke-dasharray="3,2.6"/>
<line x1="881" y1="295.2" x2="941" y2="295.2" stroke="#d63ee0" stroke-width="1.5" stroke-dasharray="3,2.6"/>
<text x="0" y="0" transform="translate(946.5,296.8) rotate(-90)" font-family="Liberation Sans, sans-serif" font-size="6" fill="#d63ee0" text-anchor="middle" dominant-baseline="central">8</text>
<text x="0" y="0" transform="translate(1.5,85.0) rotate(90)" font-family="Liberation Sans, sans-serif" font-size="8.5" fill="#999" text-anchor="middle" dominant-baseline="central">Harami</text>
<text x="0" y="0" transform="translate(58.2,241.8) rotate(-90)" font-family="Liberation Sans, sans-serif" font-size="8.5" fill="#999" text-anchor="middle" dominant-baseline="central">Three Outside</text>
<text x="0" y="0" transform="translate(88.4,258.2) rotate(-90)" font-family="Liberation Sans, sans-serif" font-size="8.5" fill="#999" text-anchor="middle" dominant-baseline="central">Harami</text>
<text x="0" y="0" transform="translate(122.6,272.8) rotate(-90)" font-family="Liberation Sans, sans-serif" font-size="8.5" fill="#999" text-anchor="middle" dominant-baseline="central">Engulfing</text>
<text x="0" y="0" transform="translate(133.0,274.5) rotate(-90)" font-family="Liberation Sans, sans-serif" font-size="8.5" fill="#999" text-anchor="middle" dominant-baseline="central">Harami</text>
<text x="0" y="0" transform="translate(403.0,166.4) rotate(90)" font-family="Liberation Sans, sans-serif" font-size="8.5" fill="#999" text-anchor="middle" dominant-baseline="central">Three Inside</text>
<text x="0" y="0" transform="translate(457.6,323.1) rotate(-90)" font-family="Liberation Sans, sans-serif" font-size="8.5" fill="#999" text-anchor="middle" dominant-baseline="central">Three Inside</text>
<text x="0" y="0" transform="translate(528.4,374.3) rotate(-90)" font-family="Liberation Sans, sans-serif" font-size="8.5" fill="#999" text-anchor="middle" dominant-baseline="central">Engulfing</text>
<text x="0" y="0" transform="translate(613.9,237.2) rotate(90)" font-family="Liberation Sans, sans-serif" font-size="8.5" fill="#999" text-anchor="middle" dominant-baseline="central">Harami</text>
<text x="0" y="0" transform="translate(627.5,233.5) rotate(90)" font-family="Liberation Sans, sans-serif" font-size="8.5" fill="#999" text-anchor="middle" dominant-baseline="central">Three Outside</text>
<text x="0" y="0" transform="translate(690.2,189.8) rotate(90)" font-family="Liberation Sans, sans-serif" font-size="8.5" fill="#999" text-anchor="middle" dominant-baseline="central">Three Outside</text>
<text x="0" y="0" transform="translate(736.6,284.6) rotate(-90)" font-family="Liberation Sans, sans-serif" font-size="8.5" fill="#999" text-anchor="middle" dominant-baseline="central">Harami</text>
<text x="0" y="0" transform="translate(760.8,188.7) rotate(90)" font-family="Liberation Sans, sans-serif" font-size="8.5" fill="#999" text-anchor="middle" dominant-baseline="central">Harami</text>
<text x="0" y="0" transform="translate(848.0,349.9) rotate(-90)" font-family="Liberation Sans, sans-serif" font-size="8.5" fill="#999" text-anchor="middle" dominant-baseline="central">Spinning Top</text>
<text x="0" y="0" transform="translate(872.0,341.1) rotate(-90)" font-family="Liberation Sans, sans-serif" font-size="8.5" fill="#999" text-anchor="middle" dominant-baseline="central">Harami</text>
<path d="M948.3,263.5 l5,-5 h29.3 a1.3,1.3 0 0 1 1.3,1.3 v7.4 a1.3,1.3 0 0 1 -1.3,1.3 h-29.3 z" fill="#7d1248"/><text x="956.3" y="266.2" font-family="Liberation Sans, sans-serif" font-size="7.3" font-weight="bold" fill="#fff">1.07938</text>
<path d="M948.3,281.2 l5,-5 h29.3 a1.3,1.3 0 0 1 1.3,1.3 v7.4 a1.3,1.3 0 0 1 -1.3,1.3 h-29.3 z" fill="#6a5fb0"/><text x="956.3" y="283.9" font-family="Liberation Sans, sans-serif" font-size="7.3" font-weight="bold" fill="#fff">1.07558</text>
<path d="M948.3,293.5 l5,-5 h29.3 a1.3,1.3 0 0 1 1.3,1.3 v7.4 a1.3,1.3 0 0 1 -1.3,1.3 h-29.3 z" fill="#127dc2"/><text x="956.3" y="296.2" font-family="Liberation Sans, sans-serif" font-size="7.3" font-weight="bold" fill="#fff">1.07292</text>
<path d="M948.3,323.1 l5,-5 h29.3 a1.3,1.3 0 0 1 1.3,1.3 v7.4 a1.3,1.3 0 0 1 -1.3,1.3 h-29.3 z" fill="#7d1248"/><text x="956.3" y="325.8" font-family="Liberation Sans, sans-serif" font-size="7.3" font-weight="bold" fill="#fff">1.06647</text>
<rect x="15" y="390" width="170" height="9" fill="#fff"/>
<text x="6.8" y="370.3" font-family="Liberation Sans, sans-serif" font-size="6.5" font-weight="bold" fill="#333">CANDLE PTNS <tspan font-weight="normal" fill="#555">12</tspan></text>
<text x="93.6" y="370.3" font-family="Liberation Sans, sans-serif" font-size="6.5" font-weight="bold" fill="#333">PRO TRENDS <tspan font-weight="normal" fill="#555">150 3 10 2 14 2 3 8</tspan></text>
<text x="228.2" y="370.3" font-family="Liberation Sans, sans-serif" font-size="6.5" font-weight="bold" fill="#333">VWAP <tspan font-weight="normal" fill="#555">20 1 2 3</tspan></text>
<polygon points="74.0,367.5 72.8,368.5 72.9,370.0 71.4,369.9 70.4,371.1 69.4,369.9 67.9,370.0 68.0,368.5 66.8,367.5 68.0,366.5 67.9,365.0 69.4,365.1 70.4,363.9 71.4,365.1 72.9,365.0 72.8,366.5" fill="#999"/><circle cx="70.4" cy="367.5" r="1.2" fill="#fff"/>
<path d="M79.3,365.1 l4.8,4.8 M84.10000000000001,365.1 l-4.8,4.8" stroke="#888" stroke-width="1.1"/>
<polygon points="208.8,367.5 207.6,368.5 207.7,370.0 206.2,369.9 205.2,371.1 204.2,369.9 202.7,370.0 202.8,368.5 201.6,367.5 202.8,366.5 202.7,365.0 204.2,365.1 205.2,363.9 206.2,365.1 207.7,365.0 207.6,366.5" fill="#999"/><circle cx="205.2" cy="367.5" r="1.2" fill="#fff"/>
<path d="M213.79999999999998,365.1 l4.8,4.8 M218.6,365.1 l-4.8,4.8" stroke="#888" stroke-width="1.1"/>
<polygon points="285.9,367.5 284.7,368.5 284.8,370.0 283.3,369.9 282.3,371.1 281.3,369.9 279.8,370.0 279.9,368.5 278.7,367.5 279.9,366.5 279.8,365.0 281.3,365.1 282.3,363.9 283.3,365.1 284.8,365.0 284.7,366.5" fill="#999"/><circle cx="282.3" cy="367.5" r="1.2" fill="#fff"/>
<path d="M290.8,365.1 l4.8,4.8 M295.59999999999997,365.1 l-4.8,4.8" stroke="#888" stroke-width="1.1"/>
<text x="6.8" y="389.2" font-family="Liberation Sans, sans-serif" font-size="6.8" fill="#aaa">TODAY:</text>
<text x="41.4" y="389.2" font-family="Liberation Sans, sans-serif" font-size="6.8" fill="#aaa">H: <tspan fill="#333">1.07764</tspan></text>
<text x="81.1" y="389.2" font-family="Liberation Sans, sans-serif" font-size="6.8" fill="#aaa">L: <tspan fill="#333">1.07104</tspan></text>
<text x="121.7" y="389.2" font-family="Liberation Sans, sans-serif" font-size="6.8" fill="#2a9db0">0.00454</text>
<text x="158.1" y="389.2" font-family="Liberation Sans, sans-serif" font-size="6.8" fill="#2a9db0">0.4%</text>
<text x="6.8" y="398.5" font-family="Liberation Sans, sans-serif" font-size="6.8" fill="#aaa">CHART:</text>
<text x="41.4" y="398.5" font-family="Liberation Sans, sans-serif" font-size="6.8" fill="#aaa">H: <tspan fill="#333">1.11395</tspan></text>
<text x="81.1" y="398.5" font-family="Liberation Sans, sans-serif" font-size="6.8" fill="#aaa">L: <tspan fill="#333">1.06012</tspan></text>
<text x="121.7" y="398.5" font-family="Liberation Sans, sans-serif" font-size="6.8" fill="#d0404a">-0.03524</text>
<text x="158.1" y="398.5" font-family="Liberation Sans, sans-serif" font-size="6.8" fill="#d0404a">-3.2%</text>
<rect x="0" y="420.2" width="947" height="1.2" fill="#e2e2e2"/>
<rect x="0" y="442.8" width="947" height="1" fill="#dcdcdc"/>
<rect x="0" y="456.6" width="948" height="1.2" fill="#999"/>
<rect x="947" y="420.5" width="3" height="1" fill="#777"/>
<text x="951.5" y="423.8" font-family="Liberation Sans, sans-serif" font-size="7.6" fill="#555">80</text>
<rect x="947" y="442.8" width="3" height="1" fill="#777"/>
<text x="951.5" y="446.1" font-family="Liberation Sans, sans-serif" font-size="7.6" fill="#555">20</text>
<path d="M948.4,431.3 l5,-4.8 h21.4 a1.2,1.2 0 0 1 1.2,1.2 v7.2 a1.2,1.2 0 0 1 -1.2,1.2 h-21.4 z" fill="#000"/>
<text x="956.5" y="434.1" font-family="Liberation Sans, sans-serif" font-size="7.3" font-weight="bold" fill="#fff">51.07</text>
<polyline points="0.0,425.3 2.2,426.4 6.7,427.5 13.9,428.0 19.5,432.0 24.5,432.5 31.2,431.6 39.0,432.0 46.9,431.4 52.4,432.5 58.0,430.3 63.6,429.7 69.2,431.4 80.4,431.6 86.5,435.3 94.9,434.7 103.8,433.6 111.7,434.5 120.1,435.9 125.6,434.2 131.8,436.1 137.4,435.0 147.4,436.4 154.1,435.3 159.7,437.9 165.2,432.3 171.4,436.1 176.4,436.7 182.5,438.3 193.1,435.6 202.1,435.3 209.9,434.2 215.6,435.9 221.7,438.3 232.3,434.2 242.4,433.1 249.6,433.8 256.9,431.6 265.8,430.8 278.1,431.4 283.7,428.9 294.8,430.1 301.0,432.3 307.1,430.3 315.0,429.2 323.4,428.9 334.5,424.1 341.2,425.6 345.7,425.3 351.8,426.0 357.4,426.7 362.4,425.3 368.6,431.2 375.3,430.5 382.0,431.2 390.9,432.5 396.5,428.0 403.2,433.1 408.7,435.0 413.2,435.0 418.8,433.1 425.6,433.4 435.6,435.3 446.8,435.3 452.9,437.9 458.5,435.9 464.6,431.4 474.7,431.4 480.8,432.3 487.0,430.3 492.5,430.3 498.7,436.1 503.7,436.4 509.3,439.2 516.0,439.0 524.9,440.1 531.7,436.1 537.3,437.5 542.9,436.4 554.6,436.4 560.2,433.4 565.2,433.6 571.3,432.0 577.5,433.6 583.0,433.1 588.6,432.3 594.2,434.7 599.8,432.0 605.4,431.4 611.0,429.4 616.5,429.7 622.1,429.4 627.7,430.5 633.3,430.5 638.9,428.6 645.6,429.7 652.3,429.2 661.2,427.2 667.4,424.5 673.5,425.8 683.6,425.8 690.3,426.7 695.8,426.9 701.4,429.7 707.0,430.5 712.6,428.6 722.6,428.0 729.3,428.6 734.9,432.3 739.5,430.5 746.2,429.2 751.7,429.2 757.3,426.0 763.5,428.3 768.5,428.9 774.1,427.8 780.2,433.4 786.3,434.5 796.4,436.4 802.5,432.0 808.7,435.3 814.2,436.4 819.8,436.1 825.4,434.5 836.6,433.8 842.1,435.9 853.4,436.1 859.5,433.6 864.0,434.5 870.1,436.1 875.7,434.7 882.4,434.2 886.9,432.7 893.0,431.2" fill="none" stroke="#555" stroke-width="1.1" stroke-linejoin="round"/>
<rect x="3" y="417.5" width="48" height="8" fill="#fff"/>
<text x="6.7" y="424.4" font-family="Liberation Sans, sans-serif" font-size="6.6" font-weight="bold" fill="#222">RSI <tspan font-weight="normal" fill="#555">14</tspan></text>
<polygon points="37.6,421.9 36.4,422.9 36.5,424.4 35.0,424.3 34.0,425.5 33.0,424.3 31.5,424.4 31.6,422.9 30.4,421.9 31.6,420.9 31.5,419.4 33.0,419.5 34.0,418.3 35.0,419.5 36.5,419.4 36.4,420.9" fill="#999"/><circle cx="34" cy="421.9" r="1.2" fill="#fff"/>
<path d="M42.9,419.6 l4.6,4.6 M47.5,419.6 l-4.6,4.6" stroke="#888" stroke-width="1.1"/>
<rect x="9.5" y="457" width="1" height="3" fill="#999"/>
<text x="10.0" y="467.8" font-family="Liberation Sans, sans-serif" font-size="8.7" fill="#555" text-anchor="middle">2024</text>
<rect x="74.8" y="457" width="1" height="3" fill="#999"/>
<text x="75.3" y="467.8" font-family="Liberation Sans, sans-serif" font-size="8.7" fill="#555" text-anchor="middle">14</text>
<rect x="162.1" y="457" width="1" height="3" fill="#999"/>
<text x="162.6" y="467.8" font-family="Liberation Sans, sans-serif" font-size="8.7" fill="#555" text-anchor="middle">Feb</text>
<rect x="226.7" y="457" width="1" height="3" fill="#999"/>
<text x="227.2" y="467.8" font-family="Liberation Sans, sans-serif" font-size="8.7" fill="#555" text-anchor="middle">14</text>
<rect x="302.7" y="457" width="1" height="3" fill="#999"/>
<text x="303.2" y="467.8" font-family="Liberation Sans, sans-serif" font-size="8.7" fill="#555" text-anchor="middle">Mar</text>
<rect x="368.4" y="457" width="1" height="3" fill="#999"/>
<text x="368.9" y="467.8" font-family="Liberation Sans, sans-serif" font-size="8.7" fill="#555" text-anchor="middle">14</text>
<rect x="450.0" y="457" width="1" height="3" fill="#999"/>
<text x="450.5" y="467.8" font-family="Liberation Sans, sans-serif" font-size="8.7" fill="#555" text-anchor="middle">Apr</text>
<rect x="514.9" y="457" width="1" height="3" fill="#999"/>
<text x="515.4" y="467.8" font-family="Liberation Sans, sans-serif" font-size="8.7" fill="#555" text-anchor="middle">14</text>
<rect x="596.3" y="457" width="1" height="3" fill="#999"/>
<text x="596.8" y="467.8" font-family="Liberation Sans, sans-serif" font-size="8.7" fill="#555" text-anchor="middle">May</text>
<rect x="660.7" y="457" width="1" height="3" fill="#999"/>
<text x="661.2" y="467.8" font-family="Liberation Sans, sans-serif" font-size="8.7" fill="#555" text-anchor="middle">14</text>
<rect x="748.3" y="457" width="1" height="3" fill="#999"/>
<text x="748.8" y="467.8" font-family="Liberation Sans, sans-serif" font-size="8.7" fill="#555" text-anchor="middle">Jun</text>
<rect x="813.6" y="457" width="1" height="3" fill="#999"/>
<text x="814.1" y="467.8" font-family="Liberation Sans, sans-serif" font-size="8.7" fill="#555" text-anchor="middle">14</text>
<rect x="889.7" y="457" width="1" height="3" fill="#999"/>
<text x="890.2" y="467.8" font-family="Liberation Sans, sans-serif" font-size="8.7" fill="#555" text-anchor="middle">Jul</text>
<rect x="7.800000000000001" y="481.9" width="11.2" height="7.8" rx="1.6" fill="none" stroke="#999" stroke-width="0.9"/>
<path d="M8.4,482.3 h10 M10.8,480.9 v1.5 M16.0,480.9 v1.5" stroke="#999" stroke-width="0.8"/>
<text x="13.4" y="488.3" font-family="Liberation Sans, sans-serif" font-size="6.2" fill="#aaa" text-anchor="middle">3</text>
<rect x="41.6" y="481.9" width="11.2" height="7.8" rx="1.6" fill="none" stroke="#999" stroke-width="0.9"/>
<path d="M42.2,482.3 h10 M44.6,480.9 v1.5 M49.800000000000004,480.9 v1.5" stroke="#999" stroke-width="0.8"/>
<text x="47.2" y="488.3" font-family="Liberation Sans, sans-serif" font-size="6.2" fill="#aaa" text-anchor="middle">5</text>
<rect x="75.7" y="481.9" width="11.2" height="7.8" rx="1.6" fill="none" stroke="#999" stroke-width="0.9"/>
<path d="M76.3,482.3 h10 M78.7,480.9 v1.5 M83.89999999999999,480.9 v1.5" stroke="#999" stroke-width="0.8"/>
<text x="81.3" y="488.3" font-family="Liberation Sans, sans-serif" font-size="6.2" fill="#aaa" text-anchor="middle">6</text>
<rect x="143.0" y="481.9" width="11.2" height="7.8" rx="1.6" fill="none" stroke="#999" stroke-width="0.9"/>
<path d="M143.6,482.3 h10 M146.0,480.9 v1.5 M151.2,480.9 v1.5" stroke="#999" stroke-width="0.8"/>
<text x="148.6" y="488.3" font-family="Liberation Sans, sans-serif" font-size="6.2" fill="#aaa" text-anchor="middle">6</text>
<rect x="210.6" y="481.9" width="11.2" height="7.8" rx="1.6" fill="none" stroke="#999" stroke-width="0.9"/>
<path d="M211.2,482.3 h10 M213.6,480.9 v1.5 M218.79999999999998,480.9 v1.5" stroke="#999" stroke-width="0.8"/>
<text x="216.2" y="488.3" font-family="Liberation Sans, sans-serif" font-size="6.2" fill="#aaa" text-anchor="middle">12</text>
<rect x="278.2" y="481.9" width="11.2" height="7.8" rx="1.6" fill="none" stroke="#999" stroke-width="0.9"/>
<path d="M278.8,482.3 h10 M281.2,480.9 v1.5 M286.40000000000003,480.9 v1.5" stroke="#999" stroke-width="0.8"/>
<text x="283.8" y="488.3" font-family="Liberation Sans, sans-serif" font-size="6.2" fill="#aaa" text-anchor="middle">2</text>
<rect x="312.4" y="481.9" width="11.2" height="7.8" rx="1.6" fill="none" stroke="#999" stroke-width="0.9"/>
<path d="M313,482.3 h10 M315.4,480.9 v1.5 M320.6,480.9 v1.5" stroke="#999" stroke-width="0.8"/>
<text x="318" y="488.3" font-family="Liberation Sans, sans-serif" font-size="6.2" fill="#aaa" text-anchor="middle">3</text>
<rect x="346.2" y="481.9" width="11.2" height="7.8" rx="1.6" fill="none" stroke="#999" stroke-width="0.9"/>
<path d="M346.8,482.3 h10 M349.2,480.9 v1.5 M354.40000000000003,480.9 v1.5" stroke="#999" stroke-width="0.8"/>
<text x="351.8" y="488.3" font-family="Liberation Sans, sans-serif" font-size="6.2" fill="#aaa" text-anchor="middle">6</text>
<rect x="380.0" y="481.9" width="11.2" height="7.8" rx="1.6" fill="none" stroke="#999" stroke-width="0.9"/>
<path d="M380.6,482.3 h10 M383.0,480.9 v1.5 M388.20000000000005,480.9 v1.5" stroke="#999" stroke-width="0.8"/>
<text x="385.6" y="488.3" font-family="Liberation Sans, sans-serif" font-size="6.2" fill="#aaa" text-anchor="middle">7</text>
<rect x="413.79999999999995" y="481.9" width="11.2" height="7.8" rx="1.6" fill="none" stroke="#999" stroke-width="0.9"/>
<path d="M414.4,482.3 h10 M416.79999999999995,480.9 v1.5 M422.0,480.9 v1.5" stroke="#999" stroke-width="0.8"/>
<text x="419.4" y="488.3" font-family="Liberation Sans, sans-serif" font-size="6.2" fill="#aaa" text-anchor="middle">3</text>
<rect x="447.59999999999997" y="481.9" width="11.2" height="7.8" rx="1.6" fill="none" stroke="#999" stroke-width="0.9"/>
<path d="M448.2,482.3 h10 M450.59999999999997,480.9 v1.5 M455.8,480.9 v1.5" stroke="#999" stroke-width="0.8"/>
<text x="453.2" y="488.3" font-family="Liberation Sans, sans-serif" font-size="6.2" fill="#aaa" text-anchor="middle">4</text>
<rect x="481.4" y="481.9" width="11.2" height="7.8" rx="1.6" fill="none" stroke="#999" stroke-width="0.9"/>
<path d="M482,482.3 h10 M484.4,480.9 v1.5 M489.6,480.9 v1.5" stroke="#999" stroke-width="0.8"/>
<text x="487" y="488.3" font-family="Liberation Sans, sans-serif" font-size="6.2" fill="#aaa" text-anchor="middle">4</text>
<rect x="515.1999999999999" y="481.9" width="11.2" height="7.8" rx="1.6" fill="none" stroke="#999" stroke-width="0.9"/>
<path d="M515.8,482.3 h10 M518.1999999999999,480.9 v1.5 M523.4,480.9 v1.5" stroke="#999" stroke-width="0.8"/>
<text x="520.8" y="488.3" font-family="Liberation Sans, sans-serif" font-size="6.2" fill="#aaa" text-anchor="middle">6</text>
<rect x="582.8" y="481.9" width="11.2" height="7.8" rx="1.6" fill="none" stroke="#999" stroke-width="0.9"/>
<path d="M583.4,482.3 h10 M585.8,480.9 v1.5 M591.0,480.9 v1.5" stroke="#999" stroke-width="0.8"/>
<text x="588.4" y="488.3" font-family="Liberation Sans, sans-serif" font-size="6.2" fill="#aaa" text-anchor="middle">6</text>
<rect x="616.6" y="481.9" width="11.2" height="7.8" rx="1.6" fill="none" stroke="#999" stroke-width="0.9"/>
<path d="M617.2,482.3 h10 M619.6,480.9 v1.5 M624.8000000000001,480.9 v1.5" stroke="#999" stroke-width="0.8"/>
<text x="622.2" y="488.3" font-family="Liberation Sans, sans-serif" font-size="6.2" fill="#aaa" text-anchor="middle">4</text>
<rect x="650.5" y="481.9" width="11.2" height="7.8" rx="1.6" fill="none" stroke="#999" stroke-width="0.9"/>
<path d="M651.1,482.3 h10 M653.5,480.9 v1.5 M658.7,480.9 v1.5" stroke="#999" stroke-width="0.8"/>
<text x="656.1" y="488.3" font-family="Liberation Sans, sans-serif" font-size="6.2" fill="#aaa" text-anchor="middle">5</text>
<rect x="684.0" y="481.9" width="11.2" height="7.8" rx="1.6" fill="none" stroke="#999" stroke-width="0.9"/>
<path d="M684.6,482.3 h10 M687.0,480.9 v1.5 M692.2,480.9 v1.5" stroke="#999" stroke-width="0.8"/>
<text x="689.6" y="488.3" font-family="Liberation Sans, sans-serif" font-size="6.2" fill="#aaa" text-anchor="middle">4</text>
<rect x="751.9" y="481.9" width="11.2" height="7.8" rx="1.6" fill="none" stroke="#999" stroke-width="0.9"/>
<path d="M752.5,482.3 h10 M754.9,480.9 v1.5 M760.1,480.9 v1.5" stroke="#999" stroke-width="0.8"/>
<text x="757.5" y="488.3" font-family="Liberation Sans, sans-serif" font-size="6.2" fill="#aaa" text-anchor="middle">4</text>
<rect x="785.8" y="481.9" width="11.2" height="7.8" rx="1.6" fill="none" stroke="#999" stroke-width="0.9"/>
<path d="M786.4,482.3 h10 M788.8,480.9 v1.5 M794.0,480.9 v1.5" stroke="#999" stroke-width="0.8"/>
<text x="791.4" y="488.3" font-family="Liberation Sans, sans-serif" font-size="6.2" fill="#aaa" text-anchor="middle">7</text>
<rect x="819.6" y="481.9" width="11.2" height="7.8" rx="1.6" fill="none" stroke="#999" stroke-width="0.9"/>
<path d="M820.2,482.3 h10 M822.6,480.9 v1.5 M827.8000000000001,480.9 v1.5" stroke="#999" stroke-width="0.8"/>
<text x="825.2" y="488.3" font-family="Liberation Sans, sans-serif" font-size="6.2" fill="#aaa" text-anchor="middle">7</text>
<rect x="853.0" y="481.9" width="11.2" height="7.8" rx="1.6" fill="none" stroke="#999" stroke-width="0.9"/>
<path d="M853.6,482.3 h10 M856.0,480.9 v1.5 M861.2,480.9 v1.5" stroke="#999" stroke-width="0.8"/>
<text x="858.6" y="488.3" font-family="Liberation Sans, sans-serif" font-size="6.2" fill="#aaa" text-anchor="middle">3</text>
<rect x="887.1999999999999" y="481.9" width="11.2" height="7.8" rx="1.6" fill="none" stroke="#999" stroke-width="0.9"/>
<path d="M887.8,482.3 h10 M890.1999999999999,480.9 v1.5 M895.4,480.9 v1.5" stroke="#999" stroke-width="0.8"/>
<text x="892.8" y="488.3" font-family="Liberation Sans, sans-serif" font-size="6.2" fill="#aaa" text-anchor="middle">4</text>
<g opacity="0.55"><rect x="176.1" y="479.9" width="13" height="10" fill="#f8b8c0"/>
<rect x="176.1" y="480.9" width="13" height="1" fill="#fff" opacity="0.6"/>
<rect x="176.1" y="482.9" width="13" height="1" fill="#fff" opacity="0.6"/>
<rect x="176.1" y="484.9" width="13" height="1" fill="#fff" opacity="0.6"/>
<rect x="176.1" y="486.9" width="13" height="1" fill="#fff" opacity="0.6"/>
<rect x="176.1" y="488.9" width="13" height="1" fill="#fff" opacity="0.6"/>
<rect x="176.1" y="479.9" width="5.8" height="5" fill="#4a5a9a"/></g>
<g opacity="0.55"><rect x="717.6" y="479.9" width="13" height="10" fill="#f8b8c0"/>
<rect x="717.6" y="480.9" width="13" height="1" fill="#fff" opacity="0.6"/>
<rect x="717.6" y="482.9" width="13" height="1" fill="#fff" opacity="0.6"/>
<rect x="717.6" y="484.9" width="13" height="1" fill="#fff" opacity="0.6"/>
<rect x="717.6" y="486.9" width="13" height="1" fill="#fff" opacity="0.6"/>
<rect x="717.6" y="488.9" width="13" height="1" fill="#fff" opacity="0.6"/>
<rect x="717.6" y="479.9" width="5.8" height="5" fill="#4a5a9a"/></g>
<rect x="0" y="496" width="986" height="27" fill="#dadada"/>
<rect x="914.6" y="496" width="64" height="27" fill="#fff"/>
<rect x="0" y="496" width="986" height="0.8" fill="#e8e8e8"/>
<rect x="0" y="522.4" width="986" height="1.2" fill="#999"/>
<rect x="39.0" y="496.5" width="1" height="26" fill="#cfcfcf"/>
<rect x="163.5" y="496.5" width="1" height="26" fill="#cfcfcf"/>
<rect x="290.0" y="496.5" width="1" height="26" fill="#cfcfcf"/>
<rect x="415.5" y="496.5" width="1" height="26" fill="#cfcfcf"/>
<rect x="539.7" y="496.5" width="1" height="26" fill="#cfcfcf"/>
<rect x="665.6" y="496.5" width="1" height="26" fill="#cfcfcf"/>
<rect x="790.8" y="496.5" width="1" height="26" fill="#cfcfcf"/>
<rect x="914.6" y="496.5" width="1" height="26" fill="#cfcfcf"/>
<rect x="0.0" y="508.4" width="2.0" height="1.6" fill="#c43a4a"/>
<rect x="2.0" y="508.7" width="2.7" height="1.6" fill="#c43a4a"/>
<rect x="4.7" y="508.3" width="3.3" height="1.6" fill="#1f8c98"/>
<rect x="8.0" y="508.6" width="2.0" height="1.6" fill="#1f8c98"/>
<rect x="10.0" y="508.8" width="2.6" height="1.6" fill="#1f8c98"/>
<rect x="12.6" y="509.0" width="1.8" height="1.6" fill="#c43a4a"/>
<rect x="14.4" y="509.1" width="2.5" height="1.6" fill="#c43a4a"/>
<rect x="16.9" y="509.3" width="1.6" height="1.6" fill="#c43a4a"/>
<rect x="18.5" y="509.8" width="1.6" height="1.6" fill="#1f8c98"/>
<rect x="20.1" y="510.5" width="2.9" height="1.6" fill="#1f8c98"/>
<rect x="23.0" y="510.9" width="3.3" height="1.6" fill="#1f8c98"/>
<rect x="26.4" y="511.5" width="2.7" height="1.6" fill="#c43a4a"/>
<rect x="29.0" y="511.4" width="1.7" height="1.6" fill="#c43a4a"/>
<rect x="30.7" y="512.0" width="2.0" height="1.6" fill="#1f8c98"/>
<rect x="32.8" y="512.0" width="3.2" height="1.6" fill="#1f8c98"/>
<rect x="36.0" y="511.7" width="2.3" height="1.6" fill="#1f8c98"/>
<rect x="38.2" y="511.9" width="2.3" height="1.6" fill="#c43a4a"/>
<rect x="40.5" y="511.6" width="2.9" height="1.6" fill="#c43a4a"/>
<rect x="43.4" y="511.1" width="3.5" height="1.6" fill="#c43a4a"/>
<rect x="46.9" y="511.0" width="2.2" height="1.6" fill="#c43a4a"/>
<rect x="49.0" y="510.6" width="1.9" height="1.6" fill="#1f8c98"/>
<rect x="51.0" y="510.4" width="1.6" height="1.6" fill="#1f8c98"/>
<rect x="52.6" y="511.4" width="3.1" height="1.6" fill="#1f8c98"/>
<rect x="55.7" y="511.4" width="1.5" height="1.6" fill="#1f8c98"/>
<rect x="57.2" y="511.2" width="3.2" height="1.6" fill="#c43a4a"/>
<rect x="60.5" y="511.4" width="3.0" height="1.6" fill="#1f8c98"/>
<rect x="63.5" y="511.0" width="2.2" height="1.6" fill="#1f8c98"/>
<rect x="65.7" y="510.3" width="3.5" height="1.6" fill="#1f8c98"/>
<rect x="69.2" y="511.3" width="1.7" height="1.6" fill="#c43a4a"/>
<rect x="70.9" y="510.8" width="3.4" height="1.6" fill="#1f8c98"/>
<rect x="74.3" y="511.1" width="1.8" height="1.6" fill="#c43a4a"/>
<rect x="76.1" y="510.9" width="2.2" height="1.6" fill="#1f8c98"/>
<rect x="78.3" y="510.1" width="3.3" height="1.6" fill="#1f8c98"/>
<rect x="81.6" y="510.2" width="3.2" height="1.6" fill="#1f8c98"/>
<rect x="84.9" y="509.9" width="2.7" height="1.6" fill="#c43a4a"/>
<rect x="87.5" y="509.4" width="3.4" height="1.6" fill="#1f8c98"/>
<rect x="90.9" y="509.6" width="2.9" height="1.6" fill="#c43a4a"/>
<rect x="93.9" y="508.8" width="2.4" height="1.6" fill="#1f8c98"/>
<rect x="96.2" y="508.9" width="2.6" height="1.6" fill="#c43a4a"/>
<rect x="98.8" y="507.7" width="3.5" height="1.6" fill="#1f8c98"/>
<rect x="102.3" y="507.2" width="2.7" height="1.6" fill="#c43a4a"/>
<rect x="105.0" y="507.0" width="2.8" height="1.6" fill="#1f8c98"/>
<rect x="107.8" y="506.9" width="3.3" height="1.6" fill="#1f8c98"/>
<rect x="111.1" y="506.5" width="1.5" height="1.6" fill="#c43a4a"/>
<rect x="112.7" y="505.4" width="1.5" height="1.6" fill="#1f8c98"/>
<rect x="114.2" y="505.1" width="2.4" height="1.6" fill="#1f8c98"/>
<rect x="116.6" y="505.7" width="1.9" height="1.6" fill="#1f8c98"/>
<rect x="118.5" y="504.7" width="2.0" height="1.6" fill="#1f8c98"/>
<rect x="120.5" y="504.7" width="3.1" height="1.6" fill="#c43a4a"/>
<rect x="123.7" y="504.4" width="1.9" height="1.6" fill="#1f8c98"/>
<rect x="125.6" y="504.8" width="1.9" height="1.6" fill="#1f8c98"/>
<rect x="127.5" y="505.3" width="1.7" height="1.6" fill="#1f8c98"/>
<rect x="129.2" y="504.8" width="2.8" height="1.6" fill="#c43a4a"/>
<rect x="132.0" y="504.6" width="3.2" height="1.6" fill="#c43a4a"/>
<rect x="135.2" y="505.7" width="3.0" height="1.6" fill="#c43a4a"/>
<rect x="138.2" y="505.8" width="2.4" height="1.6" fill="#c43a4a"/>
<rect x="140.6" y="505.4" width="1.6" height="1.6" fill="#c43a4a"/>
<rect x="142.2" y="506.2" width="3.2" height="1.6" fill="#c43a4a"/>
<rect x="145.4" y="506.2" width="2.2" height="1.6" fill="#c43a4a"/>
<rect x="147.5" y="505.7" width="2.2" height="1.6" fill="#c43a4a"/>
<rect x="149.7" y="505.6" width="2.5" height="1.6" fill="#1f8c98"/>
<rect x="152.3" y="505.4" width="2.8" height="1.6" fill="#1f8c98"/>
<rect x="155.0" y="505.0" width="2.3" height="1.6" fill="#1f8c98"/>
<rect x="157.4" y="505.4" width="1.5" height="1.6" fill="#1f8c98"/>
<rect x="158.9" y="504.6" width="3.5" height="1.6" fill="#c43a4a"/>
<rect x="162.3" y="505.1" width="2.4" height="1.6" fill="#1f8c98"/>
<rect x="164.7" y="505.3" width="3.3" height="1.6" fill="#c43a4a"/>
<rect x="168.0" y="504.8" width="3.4" height="1.6" fill="#c43a4a"/>
<rect x="171.5" y="504.3" width="1.6" height="1.6" fill="#c43a4a"/>
<rect x="173.1" y="502.9" width="3.3" height="1.6" fill="#c43a4a"/>
<rect x="176.4" y="503.2" width="3.0" height="1.6" fill="#c43a4a"/>
<rect x="179.3" y="503.3" width="2.0" height="1.6" fill="#c43a4a"/>
<rect x="181.3" y="503.1" width="2.3" height="1.6" fill="#c43a4a"/>
<rect x="183.7" y="503.7" width="2.0" height="1.6" fill="#1f8c98"/>
<rect x="185.7" y="503.0" width="1.6" height="1.6" fill="#c43a4a"/>
<rect x="187.3" y="503.0" width="2.6" height="1.6" fill="#c43a4a"/>
<rect x="189.8" y="503.8" width="3.1" height="1.6" fill="#c43a4a"/>
<rect x="192.9" y="502.9" width="1.5" height="1.6" fill="#1f8c98"/>
<rect x="194.4" y="503.6" width="2.0" height="1.6" fill="#1f8c98"/>
<rect x="196.5" y="503.5" width="2.5" height="1.6" fill="#c43a4a"/>
<rect x="199.0" y="503.9" width="3.1" height="1.6" fill="#c43a4a"/>
<rect x="202.1" y="503.1" width="3.1" height="1.6" fill="#c43a4a"/>
<rect x="205.1" y="504.1" width="1.6" height="1.6" fill="#c43a4a"/>
<rect x="206.8" y="503.8" width="1.7" height="1.6" fill="#1f8c98"/>
<rect x="208.4" y="504.4" width="2.1" height="1.6" fill="#1f8c98"/>
<rect x="210.6" y="504.9" width="2.3" height="1.6" fill="#1f8c98"/>
<rect x="212.9" y="505.6" width="1.9" height="1.6" fill="#1f8c98"/>
<rect x="214.7" y="506.4" width="1.8" height="1.6" fill="#c43a4a"/>
<rect x="216.5" y="506.3" width="2.3" height="1.6" fill="#c43a4a"/>
<rect x="218.7" y="506.4" width="1.6" height="1.6" fill="#1f8c98"/>
<rect x="220.3" y="506.4" width="3.1" height="1.6" fill="#1f8c98"/>
<rect x="223.4" y="505.8" width="1.6" height="1.6" fill="#1f8c98"/>
<rect x="225.0" y="506.3" width="2.8" height="1.6" fill="#1f8c98"/>
<rect x="227.7" y="505.8" width="2.9" height="1.6" fill="#1f8c98"/>
<rect x="230.6" y="506.7" width="1.9" height="1.6" fill="#1f8c98"/>
<rect x="232.6" y="506.2" width="1.6" height="1.6" fill="#1f8c98"/>
<rect x="234.2" y="507.0" width="1.8" height="1.6" fill="#c43a4a"/>
<rect x="236.0" y="506.1" width="2.2" height="1.6" fill="#1f8c98"/>
<rect x="238.2" y="506.8" width="2.9" height="1.6" fill="#1f8c98"/>
<rect x="241.1" y="507.0" width="3.0" height="1.6" fill="#c43a4a"/>
<rect x="244.1" y="506.3" width="2.9" height="1.6" fill="#1f8c98"/>
<rect x="247.0" y="506.9" width="3.0" height="1.6" fill="#c43a4a"/>
<rect x="250.1" y="506.7" width="2.6" height="1.6" fill="#1f8c98"/>
<rect x="252.7" y="506.6" width="1.5" height="1.6" fill="#c43a4a"/>
<rect x="254.2" y="507.6" width="1.7" height="1.6" fill="#1f8c98"/>
<rect x="256.0" y="507.6" width="3.4" height="1.6" fill="#1f8c98"/>
<rect x="259.4" y="507.0" width="1.6" height="1.6" fill="#c43a4a"/>
<rect x="260.9" y="507.6" width="3.0" height="1.6" fill="#c43a4a"/>
<rect x="263.9" y="508.0" width="3.2" height="1.6" fill="#c43a4a"/>
<rect x="267.2" y="508.0" width="2.0" height="1.6" fill="#c43a4a"/>
<rect x="269.2" y="507.6" width="2.4" height="1.6" fill="#1f8c98"/>
<rect x="271.6" y="508.0" width="2.7" height="1.6" fill="#1f8c98"/>
<rect x="274.3" y="507.9" width="3.4" height="1.6" fill="#1f8c98"/>
<rect x="277.7" y="508.3" width="3.4" height="1.6" fill="#1f8c98"/>
<rect x="281.1" y="508.1" width="3.4" height="1.6" fill="#1f8c98"/>
<rect x="284.6" y="507.5" width="3.0" height="1.6" fill="#1f8c98"/>
<rect x="287.6" y="507.5" width="2.3" height="1.6" fill="#c43a4a"/>
<rect x="289.9" y="508.4" width="2.5" height="1.6" fill="#1f8c98"/>
<rect x="292.4" y="508.0" width="2.5" height="1.6" fill="#1f8c98"/>
<rect x="294.9" y="507.6" width="3.2" height="1.6" fill="#c43a4a"/>
<rect x="298.1" y="508.4" width="1.9" height="1.6" fill="#1f8c98"/>
<rect x="300.0" y="508.1" width="3.2" height="1.6" fill="#1f8c98"/>
<rect x="303.2" y="508.5" width="3.2" height="1.6" fill="#1f8c98"/>
<rect x="306.4" y="508.1" width="2.1" height="1.6" fill="#1f8c98"/>
<rect x="308.6" y="508.3" width="2.3" height="1.6" fill="#c43a4a"/>
<rect x="310.8" y="508.6" width="2.0" height="1.6" fill="#1f8c98"/>
<rect x="312.8" y="508.6" width="1.8" height="1.6" fill="#1f8c98"/>
<rect x="314.6" y="508.4" width="1.9" height="1.6" fill="#c43a4a"/>
<rect x="316.5" y="508.8" width="2.9" height="1.6" fill="#1f8c98"/>
<rect x="319.4" y="508.5" width="3.3" height="1.6" fill="#c43a4a"/>
<rect x="322.7" y="508.7" width="2.0" height="1.6" fill="#c43a4a"/>
<rect x="324.7" y="509.0" width="3.1" height="1.6" fill="#c43a4a"/>
<rect x="327.7" y="508.9" width="3.2" height="1.6" fill="#c43a4a"/>
<rect x="330.9" y="508.0" width="3.1" height="1.6" fill="#c43a4a"/>
<rect x="334.0" y="508.8" width="2.9" height="1.6" fill="#c43a4a"/>
<rect x="336.9" y="508.0" width="2.0" height="1.6" fill="#c43a4a"/>
<rect x="338.9" y="507.7" width="2.3" height="1.6" fill="#c43a4a"/>
<rect x="341.2" y="507.5" width="2.0" height="1.6" fill="#1f8c98"/>
<rect x="343.3" y="507.5" width="2.4" height="1.6" fill="#1f8c98"/>
<rect x="345.7" y="507.9" width="2.2" height="1.6" fill="#1f8c98"/>
<rect x="347.9" y="507.8" width="1.7" height="1.6" fill="#1f8c98"/>
<rect x="349.5" y="508.4" width="2.6" height="1.6" fill="#c43a4a"/>
<rect x="352.1" y="507.6" width="1.7" height="1.6" fill="#1f8c98"/>
<rect x="353.7" y="507.6" width="3.3" height="1.6" fill="#1f8c98"/>
<rect x="357.0" y="508.5" width="3.4" height="1.6" fill="#1f8c98"/>
<rect x="360.4" y="508.2" width="2.2" height="1.6" fill="#1f8c98"/>
<rect x="362.6" y="508.1" width="2.9" height="1.6" fill="#1f8c98"/>
<rect x="365.5" y="509.0" width="3.4" height="1.6" fill="#1f8c98"/>
<rect x="368.9" y="509.2" width="2.6" height="1.6" fill="#c43a4a"/>
<rect x="371.5" y="509.4" width="2.5" height="1.6" fill="#c43a4a"/>
<rect x="374.0" y="509.4" width="2.9" height="1.6" fill="#c43a4a"/>
<rect x="376.8" y="509.0" width="3.0" height="1.6" fill="#c43a4a"/>
<rect x="379.8" y="509.1" width="3.3" height="1.6" fill="#1f8c98"/>
<rect x="383.1" y="510.0" width="3.4" height="1.6" fill="#c43a4a"/>
<rect x="386.4" y="509.5" width="2.8" height="1.6" fill="#1f8c98"/>
<rect x="389.2" y="509.4" width="2.8" height="1.6" fill="#1f8c98"/>
<rect x="392.0" y="508.8" width="3.1" height="1.6" fill="#c43a4a"/>
<rect x="395.1" y="509.1" width="1.9" height="1.6" fill="#1f8c98"/>
<rect x="396.9" y="508.7" width="2.0" height="1.6" fill="#1f8c98"/>
<rect x="399.0" y="509.2" width="1.8" height="1.6" fill="#1f8c98"/>
<rect x="400.8" y="509.6" width="2.0" height="1.6" fill="#1f8c98"/>
<rect x="402.7" y="509.1" width="3.4" height="1.6" fill="#1f8c98"/>
<rect x="406.1" y="509.0" width="3.0" height="1.6" fill="#1f8c98"/>
<rect x="409.2" y="508.6" width="3.5" height="1.6" fill="#c43a4a"/>
<rect x="412.7" y="509.1" width="1.7" height="1.6" fill="#c43a4a"/>
<rect x="414.4" y="508.7" width="3.3" height="1.6" fill="#c43a4a"/>
<rect x="417.7" y="509.4" width="1.9" height="1.6" fill="#1f8c98"/>
<rect x="419.6" y="509.3" width="2.3" height="1.6" fill="#c43a4a"/>
<rect x="421.8" y="509.7" width="1.8" height="1.6" fill="#1f8c98"/>
<rect x="423.6" y="509.5" width="2.6" height="1.6" fill="#c43a4a"/>
<rect x="426.2" y="509.3" width="1.9" height="1.6" fill="#1f8c98"/>
<rect x="428.1" y="510.0" width="2.1" height="1.6" fill="#1f8c98"/>
<rect x="430.2" y="509.3" width="3.4" height="1.6" fill="#1f8c98"/>
<rect x="433.6" y="508.4" width="3.3" height="1.6" fill="#1f8c98"/>
<rect x="436.9" y="507.4" width="3.5" height="1.6" fill="#1f8c98"/>
<rect x="440.4" y="507.5" width="2.8" height="1.6" fill="#c43a4a"/>
<rect x="443.2" y="507.4" width="3.0" height="1.6" fill="#c43a4a"/>
<rect x="446.2" y="508.3" width="3.0" height="1.6" fill="#c43a4a"/>
<rect x="449.2" y="508.4" width="2.5" height="1.6" fill="#1f8c98"/>
<rect x="451.7" y="508.6" width="3.1" height="1.6" fill="#c43a4a"/>
<rect x="454.8" y="509.1" width="2.5" height="1.6" fill="#1f8c98"/>
<rect x="457.3" y="509.4" width="2.1" height="1.6" fill="#c43a4a"/>
<rect x="459.4" y="509.6" width="3.1" height="1.6" fill="#c43a4a"/>
<rect x="462.5" y="509.4" width="2.7" height="1.6" fill="#c43a4a"/>
<rect x="465.2" y="508.3" width="1.5" height="1.6" fill="#1f8c98"/>
<rect x="466.7" y="507.5" width="3.2" height="1.6" fill="#c43a4a"/>
<rect x="470.0" y="507.2" width="3.2" height="1.6" fill="#c43a4a"/>
<rect x="473.1" y="507.7" width="3.0" height="1.6" fill="#1f8c98"/>
<rect x="476.1" y="507.8" width="1.9" height="1.6" fill="#c43a4a"/>
<rect x="478.0" y="507.4" width="2.4" height="1.6" fill="#c43a4a"/>
<rect x="480.4" y="507.4" width="1.7" height="1.6" fill="#c43a4a"/>
<rect x="482.1" y="507.0" width="3.2" height="1.6" fill="#c43a4a"/>
<rect x="485.3" y="506.4" width="2.4" height="1.6" fill="#c43a4a"/>
<rect x="487.8" y="505.5" width="2.3" height="1.6" fill="#1f8c98"/>
<rect x="490.1" y="505.1" width="2.4" height="1.6" fill="#1f8c98"/>
<rect x="492.5" y="505.5" width="2.4" height="1.6" fill="#c43a4a"/>
<rect x="494.9" y="505.2" width="2.2" height="1.6" fill="#1f8c98"/>
<rect x="497.2" y="505.0" width="2.2" height="1.6" fill="#1f8c98"/>
<rect x="499.4" y="505.1" width="1.5" height="1.6" fill="#c43a4a"/>
<rect x="500.9" y="505.5" width="2.2" height="1.6" fill="#1f8c98"/>
<rect x="503.1" y="505.1" width="1.8" height="1.6" fill="#c43a4a"/>
<rect x="505.0" y="505.7" width="2.3" height="1.6" fill="#c43a4a"/>
<rect x="507.3" y="505.5" width="1.8" height="1.6" fill="#c43a4a"/>
<rect x="509.1" y="505.5" width="1.9" height="1.6" fill="#c43a4a"/>
<rect x="510.9" y="505.8" width="2.1" height="1.6" fill="#c43a4a"/>
<rect x="513.1" y="504.9" width="1.6" height="1.6" fill="#1f8c98"/>
<rect x="514.7" y="505.1" width="2.5" height="1.6" fill="#c43a4a"/>
<rect x="517.1" y="504.8" width="2.3" height="1.6" fill="#c43a4a"/>
<rect x="519.4" y="505.6" width="2.7" height="1.6" fill="#1f8c98"/>
<rect x="522.2" y="504.7" width="2.7" height="1.6" fill="#1f8c98"/>
<rect x="524.9" y="505.2" width="3.1" height="1.6" fill="#1f8c98"/>
<rect x="527.9" y="504.4" width="3.4" height="1.6" fill="#1f8c98"/>
<rect x="531.4" y="504.8" width="2.0" height="1.6" fill="#1f8c98"/>
<rect x="533.4" y="504.1" width="2.2" height="1.6" fill="#c43a4a"/>
<rect x="535.6" y="504.7" width="2.4" height="1.6" fill="#c43a4a"/>
<rect x="538.0" y="504.8" width="1.5" height="1.6" fill="#c43a4a"/>
<rect x="539.5" y="504.6" width="1.5" height="1.6" fill="#c43a4a"/>
<rect x="541.0" y="504.2" width="1.9" height="1.6" fill="#1f8c98"/>
<rect x="542.9" y="504.4" width="3.4" height="1.6" fill="#1f8c98"/>
<rect x="546.3" y="505.1" width="2.5" height="1.6" fill="#1f8c98"/>
<rect x="548.8" y="504.9" width="1.6" height="1.6" fill="#1f8c98"/>
<rect x="550.3" y="504.1" width="2.8" height="1.6" fill="#1f8c98"/>
<rect x="553.1" y="504.1" width="2.1" height="1.6" fill="#1f8c98"/>
<rect x="555.2" y="504.6" width="2.3" height="1.6" fill="#1f8c98"/>
<rect x="557.5" y="504.2" width="3.1" height="1.6" fill="#1f8c98"/>
<rect x="560.5" y="505.1" width="3.0" height="1.6" fill="#1f8c98"/>
<rect x="563.5" y="505.1" width="2.6" height="1.6" fill="#c43a4a"/>
<rect x="566.1" y="505.8" width="2.3" height="1.6" fill="#c43a4a"/>
<rect x="568.4" y="506.0" width="2.9" height="1.6" fill="#1f8c98"/>
<rect x="571.4" y="507.0" width="1.8" height="1.6" fill="#1f8c98"/>
<rect x="573.2" y="506.5" width="1.6" height="1.6" fill="#c43a4a"/>
<rect x="574.8" y="505.6" width="1.5" height="1.6" fill="#1f8c98"/>
<rect x="576.3" y="505.8" width="2.9" height="1.6" fill="#c43a4a"/>
<rect x="579.2" y="506.1" width="2.7" height="1.6" fill="#c43a4a"/>
<rect x="581.9" y="505.4" width="3.2" height="1.6" fill="#1f8c98"/>
<rect x="585.2" y="505.7" width="3.2" height="1.6" fill="#1f8c98"/>
<rect x="588.4" y="504.6" width="1.5" height="1.6" fill="#c43a4a"/>
<rect x="589.9" y="504.4" width="3.4" height="1.6" fill="#c43a4a"/>
<rect x="593.3" y="504.4" width="2.1" height="1.6" fill="#1f8c98"/>
<rect x="595.4" y="505.3" width="2.8" height="1.6" fill="#c43a4a"/>
<rect x="598.2" y="505.4" width="3.5" height="1.6" fill="#c43a4a"/>
<rect x="601.7" y="505.4" width="1.5" height="1.6" fill="#c43a4a"/>
<rect x="603.2" y="505.8" width="1.9" height="1.6" fill="#1f8c98"/>
<rect x="605.1" y="506.2" width="3.3" height="1.6" fill="#1f8c98"/>
<rect x="608.4" y="505.9" width="2.6" height="1.6" fill="#c43a4a"/>
<rect x="611.0" y="506.4" width="2.7" height="1.6" fill="#c43a4a"/>
<rect x="613.8" y="506.5" width="1.7" height="1.6" fill="#c43a4a"/>
<rect x="615.5" y="505.6" width="1.7" height="1.6" fill="#1f8c98"/>
<rect x="617.2" y="506.5" width="2.4" height="1.6" fill="#c43a4a"/>
<rect x="619.6" y="506.4" width="2.9" height="1.6" fill="#c43a4a"/>
<rect x="622.5" y="506.1" width="3.0" height="1.6" fill="#1f8c98"/>
<rect x="625.5" y="506.1" width="2.8" height="1.6" fill="#c43a4a"/>
<rect x="628.3" y="506.7" width="3.4" height="1.6" fill="#1f8c98"/>
<rect x="631.7" y="506.4" width="1.9" height="1.6" fill="#c43a4a"/>
<rect x="633.6" y="506.3" width="3.0" height="1.6" fill="#c43a4a"/>
<rect x="636.6" y="507.0" width="1.9" height="1.6" fill="#c43a4a"/>
<rect x="638.5" y="506.5" width="2.9" height="1.6" fill="#1f8c98"/>
<rect x="641.3" y="506.4" width="2.8" height="1.6" fill="#c43a4a"/>
<rect x="644.1" y="506.7" width="3.2" height="1.6" fill="#c43a4a"/>
<rect x="647.3" y="506.9" width="2.4" height="1.6" fill="#c43a4a"/>
<rect x="649.7" y="507.6" width="2.1" height="1.6" fill="#c43a4a"/>
<rect x="651.8" y="508.1" width="3.2" height="1.6" fill="#1f8c98"/>
<rect x="655.1" y="507.6" width="2.6" height="1.6" fill="#1f8c98"/>
<rect x="657.6" y="508.0" width="1.9" height="1.6" fill="#1f8c98"/>
<rect x="659.5" y="508.1" width="3.0" height="1.6" fill="#1f8c98"/>
<rect x="662.6" y="507.8" width="2.7" height="1.6" fill="#c43a4a"/>
<rect x="665.2" y="508.5" width="3.4" height="1.6" fill="#c43a4a"/>
<rect x="668.6" y="507.6" width="1.6" height="1.6" fill="#c43a4a"/>
<rect x="670.2" y="507.2" width="2.5" height="1.6" fill="#1f8c98"/>
<rect x="672.7" y="507.7" width="3.0" height="1.6" fill="#1f8c98"/>
<rect x="675.7" y="507.9" width="1.6" height="1.6" fill="#1f8c98"/>
<rect x="677.3" y="507.4" width="3.0" height="1.6" fill="#1f8c98"/>
<rect x="680.3" y="508.0" width="2.4" height="1.6" fill="#1f8c98"/>
<rect x="682.7" y="508.5" width="1.9" height="1.6" fill="#1f8c98"/>
<rect x="684.6" y="508.9" width="2.9" height="1.6" fill="#1f8c98"/>
<rect x="687.5" y="509.1" width="3.3" height="1.6" fill="#1f8c98"/>
<rect x="690.7" y="508.8" width="2.4" height="1.6" fill="#1f8c98"/>
<rect x="693.1" y="508.9" width="3.5" height="1.6" fill="#c43a4a"/>
<rect x="696.6" y="508.8" width="3.2" height="1.6" fill="#1f8c98"/>
<rect x="699.8" y="510.0" width="2.2" height="1.6" fill="#1f8c98"/>
<rect x="702.0" y="510.4" width="2.1" height="1.6" fill="#c43a4a"/>
<rect x="704.1" y="509.8" width="2.5" height="1.6" fill="#c43a4a"/>
<rect x="706.7" y="510.3" width="2.6" height="1.6" fill="#c43a4a"/>
<rect x="709.2" y="511.7" width="1.6" height="1.6" fill="#c43a4a"/>
<rect x="710.8" y="511.8" width="3.1" height="1.6" fill="#1f8c98"/>
<rect x="713.9" y="511.3" width="3.1" height="1.6" fill="#c43a4a"/>
<rect x="717.0" y="511.2" width="2.0" height="1.6" fill="#1f8c98"/>
<rect x="719.0" y="511.5" width="2.2" height="1.6" fill="#c43a4a"/>
<rect x="721.1" y="511.2" width="3.1" height="1.6" fill="#1f8c98"/>
<rect x="724.3" y="511.3" width="2.0" height="1.6" fill="#1f8c98"/>
<rect x="726.3" y="510.9" width="2.0" height="1.6" fill="#c43a4a"/>
<rect x="728.3" y="512.0" width="1.6" height="1.6" fill="#c43a4a"/>
<rect x="729.8" y="512.1" width="3.1" height="1.6" fill="#c43a4a"/>
<rect x="733.0" y="511.6" width="3.0" height="1.6" fill="#1f8c98"/>
<rect x="736.0" y="511.4" width="3.2" height="1.6" fill="#c43a4a"/>
<rect x="739.1" y="512.1" width="1.8" height="1.6" fill="#c43a4a"/>
<rect x="741.0" y="512.2" width="1.6" height="1.6" fill="#1f8c98"/>
<rect x="742.6" y="512.3" width="2.8" height="1.6" fill="#1f8c98"/>
<rect x="745.4" y="512.4" width="2.8" height="1.6" fill="#1f8c98"/>
<rect x="748.2" y="513.0" width="2.9" height="1.6" fill="#c43a4a"/>
<rect x="751.0" y="513.2" width="2.2" height="1.6" fill="#1f8c98"/>
<rect x="753.2" y="514.2" width="2.0" height="1.6" fill="#1f8c98"/>
<rect x="755.2" y="513.4" width="1.8" height="1.6" fill="#1f8c98"/>
<rect x="757.1" y="513.9" width="1.6" height="1.6" fill="#1f8c98"/>
<rect x="758.6" y="512.6" width="3.2" height="1.6" fill="#1f8c98"/>
<rect x="761.8" y="512.5" width="2.6" height="1.6" fill="#c43a4a"/>
<rect x="764.4" y="511.5" width="2.1" height="1.6" fill="#1f8c98"/>
<rect x="766.5" y="511.0" width="2.8" height="1.6" fill="#1f8c98"/>
<rect x="769.3" y="510.7" width="2.5" height="1.6" fill="#1f8c98"/>
<rect x="771.8" y="510.9" width="3.3" height="1.6" fill="#c43a4a"/>
<rect x="775.2" y="510.2" width="3.4" height="1.6" fill="#1f8c98"/>
<rect x="778.5" y="510.7" width="2.0" height="1.6" fill="#c43a4a"/>
<rect x="780.6" y="510.1" width="2.1" height="1.6" fill="#1f8c98"/>
<rect x="782.7" y="509.5" width="1.6" height="1.6" fill="#1f8c98"/>
<rect x="784.3" y="509.7" width="3.5" height="1.6" fill="#c43a4a"/>
<rect x="787.7" y="509.6" width="3.4" height="1.6" fill="#c43a4a"/>
<rect x="791.2" y="509.3" width="1.7" height="1.6" fill="#c43a4a"/>
<rect x="792.9" y="509.7" width="3.1" height="1.6" fill="#c43a4a"/>
<rect x="796.0" y="509.1" width="3.4" height="1.6" fill="#c43a4a"/>
<rect x="799.5" y="508.9" width="3.5" height="1.6" fill="#1f8c98"/>
<rect x="802.9" y="508.7" width="2.6" height="1.6" fill="#c43a4a"/>
<rect x="805.5" y="508.7" width="2.5" height="1.6" fill="#c43a4a"/>
<rect x="808.0" y="509.3" width="3.3" height="1.6" fill="#c43a4a"/>
<rect x="811.3" y="509.2" width="2.4" height="1.6" fill="#1f8c98"/>
<rect x="813.8" y="508.6" width="1.8" height="1.6" fill="#c43a4a"/>
<rect x="815.5" y="508.6" width="2.8" height="1.6" fill="#1f8c98"/>
<rect x="818.3" y="508.4" width="3.1" height="1.6" fill="#c43a4a"/>
<rect x="821.4" y="508.8" width="3.4" height="1.6" fill="#c43a4a"/>
<rect x="824.9" y="508.6" width="1.7" height="1.6" fill="#1f8c98"/>
<rect x="826.6" y="508.5" width="1.6" height="1.6" fill="#c43a4a"/>
<rect x="828.1" y="508.8" width="1.8" height="1.6" fill="#c43a4a"/>
<rect x="829.9" y="509.4" width="3.4" height="1.6" fill="#c43a4a"/>
<rect x="833.3" y="509.5" width="1.5" height="1.6" fill="#1f8c98"/>
<rect x="834.8" y="508.4" width="3.5" height="1.6" fill="#c43a4a"/>
<rect x="838.3" y="508.5" width="2.6" height="1.6" fill="#1f8c98"/>
<rect x="840.9" y="508.4" width="3.2" height="1.6" fill="#1f8c98"/>
<rect x="844.0" y="509.1" width="2.2" height="1.6" fill="#1f8c98"/>
<rect x="846.2" y="509.0" width="2.4" height="1.6" fill="#1f8c98"/>
<rect x="848.7" y="508.7" width="2.6" height="1.6" fill="#1f8c98"/>
<rect x="851.2" y="508.9" width="2.7" height="1.6" fill="#c43a4a"/>
<rect x="853.9" y="508.9" width="3.2" height="1.6" fill="#c43a4a"/>
<rect x="857.1" y="508.6" width="3.2" height="1.6" fill="#c43a4a"/>
<rect x="860.3" y="509.4" width="3.5" height="1.6" fill="#1f8c98"/>
<rect x="863.8" y="509.0" width="1.9" height="1.6" fill="#c43a4a"/>
<rect x="865.6" y="510.2" width="1.7" height="1.6" fill="#1f8c98"/>
<rect x="867.4" y="509.2" width="2.9" height="1.6" fill="#1f8c98"/>
<rect x="870.3" y="509.7" width="2.6" height="1.6" fill="#1f8c98"/>
<rect x="872.8" y="509.8" width="2.7" height="1.6" fill="#c43a4a"/>
<rect x="875.5" y="510.4" width="2.5" height="1.6" fill="#1f8c98"/>
<rect x="878.0" y="510.8" width="2.7" height="1.6" fill="#1f8c98"/>
<rect x="880.7" y="511.2" width="3.2" height="1.6" fill="#1f8c98"/>
<rect x="883.9" y="510.3" width="2.1" height="1.6" fill="#c43a4a"/>
<rect x="886.0" y="511.2" width="2.5" height="1.6" fill="#1f8c98"/>
<rect x="888.5" y="511.7" width="2.0" height="1.6" fill="#1f8c98"/>
<rect x="890.5" y="511.0" width="2.4" height="1.6" fill="#1f8c98"/>
<rect x="892.9" y="511.6" width="3.1" height="1.6" fill="#c43a4a"/>
<rect x="896.0" y="511.4" width="2.6" height="1.6" fill="#1f8c98"/>
<rect x="898.5" y="510.6" width="1.6" height="1.6" fill="#1f8c98"/>
<rect x="900.1" y="510.0" width="3.2" height="1.6" fill="#1f8c98"/>
<rect x="903.3" y="510.0" width="3.2" height="1.6" fill="#1f8c98"/>
<rect x="906.5" y="509.6" width="1.6" height="1.6" fill="#c43a4a"/>
<rect x="908.2" y="510.0" width="2.5" height="1.6" fill="#c43a4a"/>
<rect x="910.7" y="509.3" width="3.2" height="1.6" fill="#1f8c98"/>
<rect x="913.9" y="509.5" width="2.2" height="1.6" fill="#1f8c98"/>
<rect x="916.1" y="509.8" width="2.2" height="1.6" fill="#c43a4a"/>
<rect x="918.4" y="509.2" width="1.8" height="1.6" fill="#c43a4a"/>
<rect x="920.2" y="509.4" width="1.6" height="1.6" fill="#c43a4a"/>
<rect x="921.8" y="509.9" width="1.7" height="1.6" fill="#1f8c98"/>
<rect x="923.5" y="510.1" width="1.9" height="1.6" fill="#c43a4a"/>
<rect x="925.4" y="510.4" width="3.3" height="1.6" fill="#1f8c98"/>
<rect x="928.7" y="510.2" width="3.2" height="1.6" fill="#c43a4a"/>
<rect x="931.9" y="510.5" width="2.9" height="1.6" fill="#c43a4a"/>
<rect x="934.7" y="510.6" width="3.4" height="1.6" fill="#c43a4a"/>
<rect x="938.1" y="510.8" width="3.3" height="1.6" fill="#1f8c98"/>
<rect x="941.4" y="510.9" width="1.7" height="1.6" fill="#c43a4a"/>
<rect x="943.1" y="511.2" width="1.7" height="1.6" fill="#c43a4a"/>
<rect x="944.8" y="511.3" width="2.3" height="1.6" fill="#1f8c98"/>
<rect x="947.0" y="510.5" width="1.9" height="1.6" fill="#1f8c98"/>
<rect x="948.9" y="511.1" width="1.9" height="1.6" fill="#1f8c98"/>
<rect x="950.8" y="511.0" width="3.4" height="1.6" fill="#1f8c98"/>
<rect x="954.2" y="510.7" width="1.7" height="1.6" fill="#c43a4a"/>
<rect x="955.9" y="510.6" width="3.3" height="1.6" fill="#1f8c98"/>
<rect x="959.2" y="511.5" width="1.5" height="1.6" fill="#1f8c98"/>
<rect x="960.7" y="511.3" width="2.8" height="1.6" fill="#c43a4a"/>
<rect x="963.4" y="511.3" width="2.2" height="1.6" fill="#1f8c98"/>
<rect x="965.6" y="510.4" width="2.0" height="1.6" fill="#1f8c98"/>
<rect x="967.5" y="510.1" width="2.3" height="1.6" fill="#c43a4a"/>
<rect x="969.8" y="510.6" width="2.5" height="1.6" fill="#c43a4a"/>
<rect x="972.4" y="510.8" width="1.7" height="1.6" fill="#c43a4a"/>
<rect x="974.0" y="510.1" width="3.1" height="1.6" fill="#1f8c98"/>
<rect x="914" y="496" width="1" height="27" fill="#888"/><rect x="912.8" y="502.6" width="2.8" height="15" rx="1" fill="#999"/>
<rect x="978.2" y="496" width="1" height="27" fill="#888"/><rect x="977" y="502.6" width="2.8" height="15" rx="1" fill="#999"/>
<rect x="3" y="498" width="8.5" height="8" fill="#f4f4f4"/><path d="M5,500 l4.5,4.2 M9.5,500 l-4.5,4.2" stroke="#777" stroke-width="1.1"/>
<rect x="6.0" y="523" width="1" height="3.5" fill="#999"/>
<text x="7.1" y="533.4" font-family="Liberation Sans, sans-serif" font-size="8.4" fill="#555" text-anchor="middle">16</text>
<rect x="39.0" y="523" width="1" height="3.5" fill="#999"/>
<text x="40.1" y="533.4" font-family="Liberation Sans, sans-serif" font-size="8.4" fill="#555" text-anchor="middle">2017</text>
<rect x="163.5" y="523" width="1" height="3.5" fill="#999"/>
<text x="164.6" y="533.4" font-family="Liberation Sans, sans-serif" font-size="8.4" fill="#555" text-anchor="middle">2018</text>
<rect x="290.0" y="523" width="1" height="3.5" fill="#999"/>
<text x="291.1" y="533.4" font-family="Liberation Sans, sans-serif" font-size="8.4" fill="#555" text-anchor="middle">2019</text>
<rect x="415.5" y="523" width="1" height="3.5" fill="#999"/>
<text x="416.6" y="533.4" font-family="Liberation Sans, sans-serif" font-size="8.4" fill="#555" text-anchor="middle">2020</text>
<rect x="539.7" y="523" width="1" height="3.5" fill="#999"/>
<text x="540.8000000000001" y="533.4" font-family="Liberation Sans, sans-serif" font-size="8.4" fill="#555" text-anchor="middle">2021</text>
<rect x="665.6" y="523" width="1" height="3.5" fill="#999"/>
<text x="666.7" y="533.4" font-family="Liberation Sans, sans-serif" font-size="8.4" fill="#555" text-anchor="middle">2022</text>
<rect x="790.8" y="523" width="1" height="3.5" fill="#999"/>
<text x="791.9" y="533.4" font-family="Liberation Sans, sans-serif" font-size="8.4" fill="#555" text-anchor="middle">2023</text>
<rect x="914.6" y="523" width="1" height="3.5" fill="#999"/>
<text x="915.7" y="533.4" font-family="Liberation Sans, sans-serif" font-size="8.4" fill="#555" text-anchor="middle">2024</text>
<path d="M986,537.5 v5.5 h-5.5 z" fill="#999"/>
</svg></body></html>
